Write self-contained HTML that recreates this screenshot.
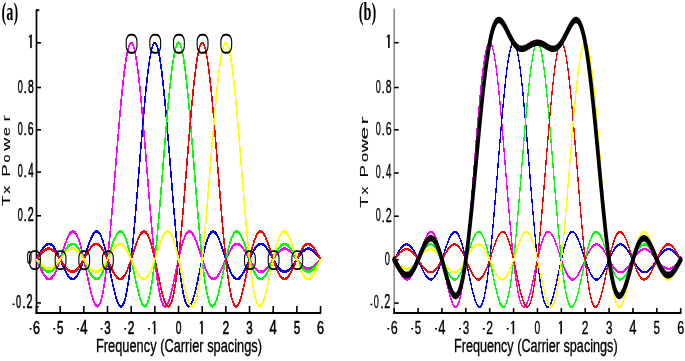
<!DOCTYPE html>
<html><head><meta charset="utf-8"><style>html,body{margin:0;padding:0;background:#fff;overflow:hidden}svg{display:block;will-change:transform;filter:blur(0.3px)}</style></head>
<body>
<svg width="685" height="361" viewBox="0 0 685 361">
<rect width="685" height="361" fill="#fff"/>
<line x1="36.50" y1="9.20" x2="36.50" y2="313.90" stroke="#000" stroke-width="1.70"/>
<line x1="35.50" y1="312.90" x2="321.14" y2="312.90" stroke="#000" stroke-width="2"/>
<line x1="36.50" y1="10.20" x2="39.30" y2="10.20" stroke="#000" stroke-width="2"/>
<line x1="36.50" y1="306.7" x2="38.70" y2="306.7" stroke="#000" stroke-width="1.4"/>
<line x1="36.50" y1="42.80" x2="41.00" y2="42.80" stroke="#000" stroke-width="1.6"/>
<rect x="30.20" y="34.60" width="1.60" height="13.50" fill="#000"/><path d="M30.40,35.30 l-1.50,2.20" stroke="#000" stroke-width="1.1" fill="none"/>
<line x1="36.50" y1="87.50" x2="41.00" y2="87.50" stroke="#000" stroke-width="1.6"/>
<text transform="matrix(0.0900,0,0,0.1907,17.75,92.61)" font-size="100" font-family="Liberation Sans, sans-serif" stroke="#000" stroke-width="0.50" vector-effect="non-scaling-stroke">0</text>
<text transform="matrix(0.1260,0,0,0.1496,23.55,92.80)" font-size="100" font-family="Liberation Sans, sans-serif" stroke="#000" stroke-width="0.50" vector-effect="non-scaling-stroke">.</text>
<text transform="matrix(0.1044,0,0,0.1907,27.95,92.61)" font-size="100" font-family="Liberation Sans, sans-serif" stroke="#000" stroke-width="0.50" vector-effect="non-scaling-stroke">8</text>
<line x1="36.50" y1="129.80" x2="41.00" y2="129.80" stroke="#000" stroke-width="1.6"/>
<text transform="matrix(0.0900,0,0,0.1907,17.75,134.91)" font-size="100" font-family="Liberation Sans, sans-serif" stroke="#000" stroke-width="0.50" vector-effect="non-scaling-stroke">0</text>
<text transform="matrix(0.1260,0,0,0.1496,23.55,135.10)" font-size="100" font-family="Liberation Sans, sans-serif" stroke="#000" stroke-width="0.50" vector-effect="non-scaling-stroke">.</text>
<text transform="matrix(0.1062,0,0,0.1907,27.86,134.91)" font-size="100" font-family="Liberation Sans, sans-serif" stroke="#000" stroke-width="0.50" vector-effect="non-scaling-stroke">6</text>
<line x1="36.50" y1="172.10" x2="41.00" y2="172.10" stroke="#000" stroke-width="1.6"/>
<text transform="matrix(0.0900,0,0,0.1907,17.75,177.21)" font-size="100" font-family="Liberation Sans, sans-serif" stroke="#000" stroke-width="0.50" vector-effect="non-scaling-stroke">0</text>
<text transform="matrix(0.1260,0,0,0.1496,23.55,177.40)" font-size="100" font-family="Liberation Sans, sans-serif" stroke="#000" stroke-width="0.50" vector-effect="non-scaling-stroke">.</text>
<text transform="matrix(0.0972,0,0,0.1962,28.18,177.40)" font-size="100" font-family="Liberation Sans, sans-serif" stroke="#000" stroke-width="0.50" vector-effect="non-scaling-stroke">4</text>
<line x1="36.50" y1="215.80" x2="41.00" y2="215.80" stroke="#000" stroke-width="1.6"/>
<text transform="matrix(0.0900,0,0,0.1907,17.75,220.91)" font-size="100" font-family="Liberation Sans, sans-serif" stroke="#000" stroke-width="0.50" vector-effect="non-scaling-stroke">0</text>
<text transform="matrix(0.1260,0,0,0.1496,23.55,221.10)" font-size="100" font-family="Liberation Sans, sans-serif" stroke="#000" stroke-width="0.50" vector-effect="non-scaling-stroke">.</text>
<text transform="matrix(0.1076,0,0,0.1933,27.86,221.10)" font-size="100" font-family="Liberation Sans, sans-serif" stroke="#000" stroke-width="0.50" vector-effect="non-scaling-stroke">2</text>
<line x1="36.50" y1="259.30" x2="41.00" y2="259.30" stroke="#000" stroke-width="1.6"/>
<text transform="matrix(0.0920,0,0,0.1907,26.74,264.41)" font-size="100" font-family="Liberation Sans, sans-serif" stroke="#000" stroke-width="0.50" vector-effect="non-scaling-stroke">0</text>
<line x1="36.50" y1="302.90" x2="41.00" y2="302.90" stroke="#000" stroke-width="1.6"/>
<rect x="12.55" y="303.50" width="1.9" height="1.6" fill="#000"/>
<text transform="matrix(0.0910,0,0,0.1907,15.94,308.01)" font-size="100" font-family="Liberation Sans, sans-serif" stroke="#000" stroke-width="0.50" vector-effect="non-scaling-stroke">0</text>
<text transform="matrix(0.1418,0,0,0.1496,22.01,308.20)" font-size="100" font-family="Liberation Sans, sans-serif" stroke="#000" stroke-width="0.50" vector-effect="non-scaling-stroke">.</text>
<text transform="matrix(0.1087,0,0,0.1933,26.40,308.20)" font-size="100" font-family="Liberation Sans, sans-serif" stroke="#000" stroke-width="0.50" vector-effect="non-scaling-stroke">2</text>
<line x1="36.50" y1="312.90" x2="36.50" y2="305.90" stroke="#000" stroke-width="1.6"/>
<rect x="29.65" y="328.00" width="1.9" height="1.6" fill="#000"/>
<text transform="matrix(0.1257,0,0,0.1879,32.96,334.02)" font-size="100" font-family="Liberation Sans, sans-serif" stroke="#000" stroke-width="0.50" vector-effect="non-scaling-stroke">6</text>
<line x1="60.17" y1="312.90" x2="60.17" y2="305.90" stroke="#000" stroke-width="1.6"/>
<rect x="53.32" y="328.00" width="1.9" height="1.6" fill="#000"/>
<text transform="matrix(0.1160,0,0,0.1906,56.96,334.01)" font-size="100" font-family="Liberation Sans, sans-serif" stroke="#000" stroke-width="0.50" vector-effect="non-scaling-stroke">5</text>
<line x1="83.84" y1="312.90" x2="83.84" y2="305.90" stroke="#000" stroke-width="1.6"/>
<rect x="76.99" y="328.00" width="1.9" height="1.6" fill="#000"/>
<text transform="matrix(0.1310,0,0,0.1933,80.24,334.20)" font-size="100" font-family="Liberation Sans, sans-serif" stroke="#000" stroke-width="0.50" vector-effect="non-scaling-stroke">4</text>
<line x1="107.51" y1="312.90" x2="107.51" y2="305.90" stroke="#000" stroke-width="1.6"/>
<rect x="100.66" y="328.00" width="1.9" height="1.6" fill="#000"/>
<text transform="matrix(0.1160,0,0,0.1879,104.32,334.02)" font-size="100" font-family="Liberation Sans, sans-serif" stroke="#000" stroke-width="0.50" vector-effect="non-scaling-stroke">3</text>
<line x1="131.18" y1="312.90" x2="131.18" y2="305.90" stroke="#000" stroke-width="1.6"/>
<rect x="124.33" y="328.00" width="1.9" height="1.6" fill="#000"/>
<text transform="matrix(0.1207,0,0,0.1905,127.82,334.20)" font-size="100" font-family="Liberation Sans, sans-serif" stroke="#000" stroke-width="0.50" vector-effect="non-scaling-stroke">2</text>
<line x1="154.85" y1="312.90" x2="154.85" y2="305.90" stroke="#000" stroke-width="1.6"/>
<rect x="148.00" y="328.00" width="1.9" height="1.6" fill="#000"/>
<rect x="153.85" y="320.90" width="1.60" height="13.30" fill="#000"/><path d="M154.05,321.60 l-1.50,2.20" stroke="#000" stroke-width="1.1" fill="none"/>
<line x1="178.52" y1="312.90" x2="178.52" y2="305.90" stroke="#000" stroke-width="1.6"/>
<text transform="matrix(0.1025,0,0,0.1879,175.67,334.02)" font-size="100" font-family="Liberation Sans, sans-serif" stroke="#000" stroke-width="0.50" vector-effect="non-scaling-stroke">0</text>
<line x1="202.19" y1="312.90" x2="202.19" y2="305.90" stroke="#000" stroke-width="1.6"/>
<rect x="201.19" y="320.90" width="1.60" height="13.30" fill="#000"/><path d="M201.39,321.60 l-1.50,2.20" stroke="#000" stroke-width="1.1" fill="none"/>
<line x1="225.86" y1="312.90" x2="225.86" y2="305.90" stroke="#000" stroke-width="1.6"/>
<text transform="matrix(0.1207,0,0,0.1905,222.50,334.20)" font-size="100" font-family="Liberation Sans, sans-serif" stroke="#000" stroke-width="0.50" vector-effect="non-scaling-stroke">2</text>
<line x1="249.53" y1="312.90" x2="249.53" y2="305.90" stroke="#000" stroke-width="1.6"/>
<text transform="matrix(0.1160,0,0,0.1879,246.34,334.02)" font-size="100" font-family="Liberation Sans, sans-serif" stroke="#000" stroke-width="0.50" vector-effect="non-scaling-stroke">3</text>
<line x1="273.20" y1="312.90" x2="273.20" y2="305.90" stroke="#000" stroke-width="1.6"/>
<text transform="matrix(0.1310,0,0,0.1933,269.60,334.20)" font-size="100" font-family="Liberation Sans, sans-serif" stroke="#000" stroke-width="0.50" vector-effect="non-scaling-stroke">4</text>
<line x1="296.87" y1="312.90" x2="296.87" y2="305.90" stroke="#000" stroke-width="1.6"/>
<text transform="matrix(0.1160,0,0,0.1906,293.66,334.01)" font-size="100" font-family="Liberation Sans, sans-serif" stroke="#000" stroke-width="0.50" vector-effect="non-scaling-stroke">5</text>
<line x1="320.54" y1="312.90" x2="320.54" y2="305.90" stroke="#000" stroke-width="1.6"/>
<text transform="matrix(0.1257,0,0,0.1879,317.00,334.02)" font-size="100" font-family="Liberation Sans, sans-serif" stroke="#000" stroke-width="0.50" vector-effect="non-scaling-stroke">6</text>
<g transform="matrix(1,0,0,1.7500,0,0)" fill="none" stroke-linejoin="round">
<polyline stroke="#ff00ff" stroke-width="1.60" shape-rendering="crispEdges" points="36.50,148.17 37.00,148.83 37.50,149.49 38.00,150.15 38.50,150.81 39.00,151.46 39.50,152.11 40.00,152.75 40.50,153.37 41.00,153.98 41.50,154.57 42.00,155.14 42.50,155.68 43.00,156.20 43.50,156.68 44.00,157.14 44.50,157.56 45.00,157.94 45.50,158.28 46.00,158.59 46.50,158.85 47.00,159.07 47.50,159.24 48.00,159.36 48.50,159.44 49.00,159.46 49.50,159.44 50.00,159.37 50.50,159.25 51.00,159.07 51.50,158.85 52.00,158.57 52.50,158.25 53.00,157.88 53.50,157.46 54.00,156.99 54.50,156.48 55.00,155.92 55.50,155.32 56.00,154.69 56.50,154.01 57.00,153.30 57.50,152.56 58.00,151.79 58.50,150.99 59.00,150.17 59.50,149.33 60.00,148.47 60.50,147.59 61.00,146.71 61.50,145.82 62.00,144.93 62.50,144.04 63.00,143.16 63.50,142.28 64.00,141.42 64.50,140.58 65.00,139.75 65.50,138.95 66.00,138.18 66.50,137.44 67.00,136.74 67.50,136.08 68.00,135.46 68.50,134.89 69.00,134.36 69.50,133.89 70.00,133.48 70.50,133.12 71.00,132.83 71.50,132.60 72.00,132.43 72.50,132.33 73.00,132.30 73.50,132.34 74.00,132.45 74.50,132.63 75.00,132.88 75.50,133.21 76.00,133.61 76.50,134.08 77.00,134.62 77.50,135.23 78.00,135.91 78.50,136.66 79.00,137.47 79.50,138.35 80.00,139.29 80.50,140.29 81.00,141.34 81.50,142.44 82.00,143.59 82.50,144.79 83.00,146.02 83.50,147.29 84.00,148.59 84.50,149.92 85.00,151.27 85.50,152.63 86.00,154.00 86.50,155.38 87.00,156.76 87.50,158.13 88.00,159.49 88.50,160.83 89.00,162.14 89.50,163.43 90.00,164.68 90.50,165.88 91.00,167.04 91.50,168.14 92.00,169.18 92.50,170.15 93.00,171.05 93.50,171.87 94.00,172.61 94.50,173.26 95.00,173.82 95.50,174.28 96.00,174.63 96.50,174.88 97.00,175.01 97.50,175.03 98.00,174.92 98.50,174.70 99.00,174.35 99.50,173.87 100.00,173.26 100.50,172.52 101.00,171.65 101.50,170.64 102.00,169.49 102.50,168.22 103.00,166.80 103.50,165.25 104.00,163.57 104.50,161.75 105.00,159.81 105.50,157.74 106.00,155.54 106.50,153.22 107.00,150.78 107.50,148.22 108.00,145.56 108.50,142.79 109.00,139.92 109.50,136.95 110.00,133.90 110.50,130.76 111.00,127.54 111.50,124.26 112.00,120.91 112.50,117.50 113.00,114.05 113.50,110.55 114.00,107.02 114.50,103.47 115.00,99.90 115.50,96.32 116.00,92.75 116.50,89.18 117.00,85.62 117.50,82.10 118.00,78.61 118.50,75.16 119.00,71.76 119.50,68.42 120.00,65.15 120.50,61.96 121.00,58.85 121.50,55.83 122.00,52.92 122.50,50.11 123.00,47.41 123.50,44.84 124.00,42.40 124.50,40.09 125.00,37.92 125.50,35.90 126.00,34.03 126.50,32.31 127.00,30.76 127.50,29.37 128.00,28.15 128.50,27.11 129.00,26.23 129.50,25.54 130.00,25.02 130.50,24.68 131.00,24.53 131.50,24.55 132.00,24.76 132.50,25.15 133.00,25.71 133.50,26.46 134.00,27.38 134.50,28.48 135.00,29.74 135.50,31.18 136.00,32.78 136.50,34.54 137.00,36.45 137.50,38.51 138.00,40.72 138.50,43.07 139.00,45.55 139.50,48.16 140.00,50.88 140.50,53.72 141.00,56.67 141.50,59.71 142.00,62.84 142.50,66.06 143.00,69.35 143.50,72.70 144.00,76.12 144.50,79.58 145.00,83.08 145.50,86.62 146.00,90.17 146.50,93.75 147.00,97.33 147.50,100.90 148.00,104.47 148.50,108.01 149.00,111.53 149.50,115.02 150.00,118.46 150.50,121.85 151.00,125.18 151.50,128.45 152.00,131.65 152.50,134.76 153.00,137.79 153.50,140.73 154.00,143.58 154.50,146.32 155.00,148.95 155.50,151.47 156.00,153.88 156.50,156.17 157.00,158.33 157.50,160.37 158.00,162.28 158.50,164.05 159.00,165.70 159.50,167.21 160.00,168.59 160.50,169.83 161.00,170.94 161.50,171.91 162.00,172.74 162.50,173.45 163.00,174.02 163.50,174.46 164.00,174.78 164.50,174.97 165.00,175.03 165.50,174.98 166.00,174.82 166.50,174.54 167.00,174.16 167.50,173.67 168.00,173.09 168.50,172.42 169.00,171.65 169.50,170.81 170.00,169.89 170.50,168.89 171.00,167.84 171.50,166.72 172.00,165.55 172.50,164.33 173.00,163.07 173.50,161.78 174.00,160.46 174.50,159.11 175.00,157.75 175.50,156.37 176.00,155.00 176.50,153.62 177.00,152.25 177.50,150.89 178.00,149.54 178.50,148.22 179.00,146.93 179.50,145.67 180.00,144.45 180.50,143.26 181.00,142.13 181.50,141.04 182.00,140.00 182.50,139.02 183.00,138.10 183.50,137.24 184.00,136.44 184.50,135.71 185.00,135.05 185.50,134.46 186.00,133.94 186.50,133.49 187.00,133.11 187.50,132.80 188.00,132.57 188.50,132.41 189.00,132.32 189.50,132.30 190.00,132.35 190.50,132.47 191.00,132.65 191.50,132.90 192.00,133.22 192.50,133.59 193.00,134.02 193.50,134.51 194.00,135.04 194.50,135.63 195.00,136.26 195.50,136.93 196.00,137.65 196.50,138.39 197.00,139.17 197.50,139.98 198.00,140.81 198.50,141.66 199.00,142.53 199.50,143.41 200.00,144.29 200.50,145.18 201.00,146.07 201.50,146.96 202.00,147.84 202.50,148.71 203.00,149.56 203.50,150.40 204.00,151.22 204.50,152.01 205.00,152.77 205.50,153.50 206.00,154.20 206.50,154.87 207.00,155.49 207.50,156.08 208.00,156.62 208.50,157.12 209.00,157.58 209.50,157.99 210.00,158.34 210.50,158.66 211.00,158.92 211.50,159.13 212.00,159.29 212.50,159.39 213.00,159.45 213.50,159.46 214.00,159.42 214.50,159.33 215.00,159.19 215.50,159.01 216.00,158.78 216.50,158.51 217.00,158.19 217.50,157.84 218.00,157.44 218.50,157.01 219.00,156.55 219.50,156.06 220.00,155.53 220.50,154.98 221.00,154.41 221.50,153.81 222.00,153.20 222.50,152.57 223.00,151.93 223.50,151.28 224.00,150.62 224.50,149.96 225.00,149.30 225.50,148.64 226.00,147.99 226.50,147.34 227.00,146.71 227.50,146.08 228.00,145.47 228.50,144.89 229.00,144.32 229.50,143.77 230.00,143.25 230.50,142.75 231.00,142.29 231.50,141.85 232.00,141.45 232.50,141.08 233.00,140.74 233.50,140.44 234.00,140.18 234.50,139.95 235.00,139.77 235.50,139.62 236.00,139.51 236.50,139.44 237.00,139.40 237.50,139.41 238.00,139.46 238.50,139.54 239.00,139.66 239.50,139.82 240.00,140.01 240.50,140.23 241.00,140.49 241.50,140.78 242.00,141.10 242.50,141.45 243.00,141.82 243.50,142.22 244.00,142.64 244.50,143.08 245.00,143.54 245.50,144.02 246.00,144.51 246.50,145.01 247.00,145.52 247.50,146.04 248.00,146.56 248.50,147.09 249.00,147.62 249.50,148.14 250.00,148.66 250.50,149.17 251.00,149.68 251.50,150.17 252.00,150.65 252.50,151.12 253.00,151.57 253.50,152.00 254.00,152.41 254.50,152.80 255.00,153.17 255.50,153.51 256.00,153.82 256.50,154.11 257.00,154.37 257.50,154.60 258.00,154.80 258.50,154.97 259.00,155.10 259.50,155.21 260.00,155.29 260.50,155.33 261.00,155.34 261.50,155.32 262.00,155.27 262.50,155.19 263.00,155.07 263.50,154.93 264.00,154.76 264.50,154.56 265.00,154.34 265.50,154.09 266.00,153.82 266.50,153.52 267.00,153.20 267.50,152.86 268.00,152.51 268.50,152.13 269.00,151.75 269.50,151.35 270.00,150.94 270.50,150.52 271.00,150.09 271.50,149.66 272.00,149.22 272.50,148.78 273.00,148.35 273.50,147.91 274.00,147.48 274.50,147.06 275.00,146.64 275.50,146.23 276.00,145.84 276.50,145.45 277.00,145.08 277.50,144.73 278.00,144.40 278.50,144.08 279.00,143.78 279.50,143.51 280.00,143.26 280.50,143.03 281.00,142.82 281.50,142.64 282.00,142.49 282.50,142.36 283.00,142.26 283.50,142.18 284.00,142.13 284.50,142.11 285.00,142.11 285.50,142.15 286.00,142.20 286.50,142.29 287.00,142.39 287.50,142.53 288.00,142.68 288.50,142.86 289.00,143.07 289.50,143.29 290.00,143.53 290.50,143.80 291.00,144.08 291.50,144.37 292.00,144.68 292.50,145.01 293.00,145.34 293.50,145.69 294.00,146.04 294.50,146.41 295.00,146.77 295.50,147.15 296.00,147.52 296.50,147.89 297.00,148.27 297.50,148.64 298.00,149.01 298.50,149.37 299.00,149.72 299.50,150.06 300.00,150.40 300.50,150.72 301.00,151.03 301.50,151.33 302.00,151.60 302.50,151.87 303.00,152.11 303.50,152.34 304.00,152.55 304.50,152.73 305.00,152.90 305.50,153.04 306.00,153.16 306.50,153.26 307.00,153.34 307.50,153.39 308.00,153.42 308.50,153.42 309.00,153.41 309.50,153.37 310.00,153.30 310.50,153.22 311.00,153.11 311.50,152.99 312.00,152.84 312.50,152.67 313.00,152.49 313.50,152.28 314.00,152.06 314.50,151.82 315.00,151.57 315.50,151.31 316.00,151.03 316.50,150.74 317.00,150.44 317.50,150.13 318.00,149.82 318.50,149.50 319.00,149.18 319.50,148.85 320.00,148.52 320.50,148.20"/>
<polyline stroke="#0000ff" stroke-width="1.60" shape-rendering="crispEdges" points="36.50,148.17 37.00,147.65 37.50,147.12 38.00,146.59 38.50,146.07 39.00,145.55 39.50,145.04 40.00,144.54 40.50,144.05 41.00,143.57 41.50,143.11 42.00,142.67 42.50,142.24 43.00,141.84 43.50,141.47 44.00,141.12 44.50,140.80 45.00,140.51 45.50,140.25 46.00,140.02 46.50,139.83 47.00,139.67 47.50,139.55 48.00,139.46 48.50,139.41 49.00,139.40 49.50,139.43 50.00,139.50 50.50,139.61 51.00,139.76 51.50,139.94 52.00,140.16 52.50,140.42 53.00,140.72 53.50,141.06 54.00,141.42 54.50,141.83 55.00,142.26 55.50,142.72 56.00,143.22 56.50,143.74 57.00,144.28 57.50,144.85 58.00,145.44 58.50,146.05 59.00,146.67 59.50,147.30 60.00,147.95 60.50,148.60 61.00,149.26 61.50,149.92 62.00,150.58 62.50,151.24 63.00,151.89 63.50,152.53 64.00,153.16 64.50,153.78 65.00,154.37 65.50,154.95 66.00,155.50 66.50,156.02 67.00,156.52 67.50,156.99 68.00,157.42 68.50,157.81 69.00,158.17 69.50,158.49 70.00,158.77 70.50,159.00 71.00,159.18 71.50,159.32 72.00,159.42 72.50,159.46 73.00,159.46 73.50,159.40 74.00,159.29 74.50,159.14 75.00,158.93 75.50,158.67 76.00,158.36 76.50,158.01 77.00,157.60 77.50,157.15 78.00,156.66 78.50,156.11 79.00,155.53 79.50,154.91 80.00,154.24 80.50,153.55 81.00,152.82 81.50,152.05 82.00,151.26 82.50,150.45 83.00,149.61 83.50,148.76 84.00,147.89 84.50,147.01 85.00,146.13 85.50,145.24 86.00,144.34 86.50,143.46 87.00,142.58 87.50,141.71 88.00,140.86 88.50,140.03 89.00,139.22 89.50,138.44 90.00,137.69 90.50,136.98 91.00,136.30 91.50,135.67 92.00,135.08 92.50,134.54 93.00,134.05 93.50,133.61 94.00,133.24 94.50,132.92 95.00,132.67 95.50,132.48 96.00,132.35 96.50,132.30 97.00,132.31 97.50,132.40 98.00,132.56 98.50,132.79 99.00,133.09 99.50,133.46 100.00,133.91 100.50,134.43 101.00,135.01 101.50,135.67 102.00,136.40 102.50,137.19 103.00,138.05 103.50,138.96 104.00,139.94 104.50,140.97 105.00,142.06 105.50,143.19 106.00,144.37 106.50,145.60 107.00,146.85 107.50,148.15 108.00,149.46 108.50,150.81 109.00,152.16 109.50,153.53 110.00,154.91 110.50,156.29 111.00,157.67 111.50,159.03 112.00,160.38 112.50,161.70 113.00,163.00 113.50,164.26 114.00,165.48 114.50,166.65 115.00,167.77 115.50,168.83 116.00,169.83 116.50,170.75 117.00,171.60 117.50,172.37 118.00,173.05 118.50,173.64 119.00,174.13 119.50,174.52 120.00,174.80 120.50,174.98 121.00,175.03 121.50,174.97 122.00,174.79 122.50,174.48 123.00,174.05 123.50,173.48 124.00,172.79 124.50,171.96 125.00,171.00 125.50,169.90 126.00,168.67 126.50,167.30 127.00,165.79 127.50,164.16 128.00,162.39 128.50,160.48 129.00,158.45 129.50,156.30 130.00,154.02 130.50,151.62 131.00,149.10 131.50,146.48 132.00,143.74 132.50,140.91 133.00,137.97 133.50,134.95 134.00,131.83 134.50,128.64 135.00,125.38 135.50,122.05 136.00,118.66 136.50,115.23 137.00,111.74 137.50,108.23 138.00,104.68 138.50,101.12 139.00,97.54 139.50,93.96 140.00,90.39 140.50,86.83 141.00,83.29 141.50,79.79 142.00,76.32 142.50,72.91 143.00,69.55 143.50,66.25 144.00,63.03 144.50,59.90 145.00,56.85 145.50,53.90 146.00,51.05 146.50,48.32 147.00,45.70 147.50,43.21 148.00,40.86 148.50,38.64 149.00,36.57 149.50,34.65 150.00,32.88 150.50,31.27 151.00,29.83 151.50,28.55 152.00,27.44 152.50,26.51 153.00,25.75 153.50,25.17 154.00,24.78 154.50,24.56 155.00,24.52 155.50,24.67 156.00,24.99 156.50,25.50 157.00,26.19 157.50,27.05 158.00,28.09 158.50,29.29 159.00,30.67 159.50,32.22 160.00,33.92 160.50,35.78 161.00,37.80 161.50,39.96 162.00,42.26 162.50,44.69 163.00,47.26 163.50,49.94 164.00,52.75 164.50,55.66 165.00,58.67 165.50,61.77 166.00,64.96 166.50,68.22 167.00,71.56 167.50,74.95 168.00,78.40 168.50,81.89 169.00,85.41 169.50,88.96 170.00,92.53 170.50,96.11 171.00,99.69 171.50,103.26 172.00,106.81 172.50,110.34 173.00,113.84 173.50,117.30 174.00,120.70 174.50,124.06 175.00,127.35 175.50,130.57 176.00,133.71 176.50,136.77 177.00,139.74 177.50,142.62 178.00,145.40 178.50,148.07 179.00,150.63 179.50,153.07 180.00,155.40 180.50,157.61 181.00,159.69 181.50,161.64 182.00,163.46 182.50,165.15 183.00,166.71 183.50,168.13 184.00,169.42 184.50,170.57 185.00,171.59 185.50,172.47 186.00,173.22 186.50,173.84 187.00,174.32 187.50,174.68 188.00,174.91 188.50,175.02 189.00,175.01 189.50,174.89 190.00,174.65 190.50,174.30 191.00,173.85 191.50,173.30 192.00,172.65 192.50,171.92 193.00,171.10 193.50,170.21 194.00,169.24 194.50,168.20 195.00,167.10 195.50,165.95 196.00,164.75 196.50,163.50 197.00,162.22 197.50,160.91 198.00,159.57 198.50,158.21 199.00,156.84 199.50,155.46 200.00,154.09 200.50,152.71 201.00,151.35 201.50,150.00 202.00,148.67 202.50,147.37 203.00,146.10 203.50,144.86 204.00,143.66 204.50,142.51 205.00,141.40 205.50,140.35 206.00,139.35 206.50,138.41 207.00,137.53 207.50,136.71 208.00,135.95 208.50,135.27 209.00,134.65 209.50,134.11 210.00,133.63 210.50,133.23 211.00,132.90 211.50,132.64 212.00,132.45 212.50,132.34 213.00,132.30 213.50,132.32 214.00,132.42 214.50,132.58 215.00,132.81 215.50,133.10 216.00,133.46 216.50,133.87 217.00,134.33 217.50,134.85 218.00,135.42 218.50,136.04 219.00,136.70 219.50,137.40 220.00,138.14 220.50,138.91 221.00,139.70 221.50,140.53 222.00,141.37 222.50,142.23 223.00,143.11 223.50,143.99 224.00,144.88 224.50,145.77 225.00,146.66 225.50,147.54 226.00,148.41 226.50,149.27 227.00,150.12 227.50,150.94 228.00,151.74 228.50,152.51 229.00,153.26 229.50,153.97 230.00,154.65 230.50,155.29 231.00,155.89 231.50,156.44 232.00,156.96 232.50,157.43 233.00,157.85 233.50,158.23 234.00,158.56 234.50,158.83 235.00,159.06 235.50,159.24 236.00,159.36 236.50,159.44 237.00,159.46 237.50,159.44 238.00,159.37 238.50,159.25 239.00,159.08 239.50,158.86 240.00,158.61 240.50,158.30 241.00,157.96 241.50,157.58 242.00,157.16 242.50,156.71 243.00,156.23 243.50,155.71 244.00,155.17 244.50,154.61 245.00,154.02 245.50,153.41 246.00,152.79 246.50,152.15 247.00,151.50 247.50,150.85 248.00,150.19 248.50,149.53 249.00,148.87 249.50,148.21 250.00,147.56 250.50,146.92 251.00,146.29 251.50,145.68 252.00,145.08 252.50,144.51 253.00,143.95 253.50,143.42 254.00,142.92 254.50,142.44 255.00,142.00 255.50,141.58 256.00,141.20 256.50,140.85 257.00,140.54 257.50,140.26 258.00,140.03 258.50,139.82 259.00,139.66 259.50,139.54 260.00,139.46 260.50,139.41 261.00,139.40 261.50,139.44 262.00,139.51 262.50,139.61 263.00,139.76 263.50,139.94 264.00,140.15 264.50,140.40 265.00,140.68 265.50,140.99 266.00,141.33 266.50,141.69 267.00,142.08 267.50,142.49 268.00,142.93 268.50,143.38 269.00,143.85 269.50,144.34 270.00,144.84 270.50,145.35 271.00,145.86 271.50,146.38 272.00,146.91 272.50,147.44 273.00,147.96 273.50,148.48 274.00,149.00 274.50,149.51 275.00,150.01 275.50,150.49 276.00,150.96 276.50,151.42 277.00,151.86 277.50,152.28 278.00,152.67 278.50,153.05 279.00,153.39 279.50,153.72 280.00,154.01 280.50,154.28 281.00,154.52 281.50,154.73 282.00,154.91 282.50,155.06 283.00,155.18 283.50,155.26 284.00,155.32 284.50,155.34 285.00,155.33 285.50,155.29 286.00,155.22 286.50,155.12 287.00,154.98 287.50,154.82 288.00,154.63 288.50,154.42 289.00,154.18 289.50,153.91 290.00,153.62 290.50,153.31 291.00,152.98 291.50,152.63 292.00,152.26 292.50,151.88 293.00,151.49 293.50,151.08 294.00,150.66 294.50,150.24 295.00,149.80 295.50,149.37 296.00,148.93 296.50,148.49 297.00,148.06 297.50,147.63 298.00,147.20 298.50,146.78 299.00,146.37 299.50,145.97 300.00,145.58 300.50,145.21 301.00,144.85 301.50,144.51 302.00,144.19 302.50,143.88 303.00,143.60 303.50,143.34 304.00,143.10 304.50,142.89 305.00,142.70 305.50,142.54 306.00,142.40 306.50,142.29 307.00,142.20 307.50,142.15 308.00,142.11 308.50,142.11 309.00,142.13 309.50,142.18 310.00,142.25 310.50,142.35 311.00,142.48 311.50,142.63 312.00,142.80 312.50,143.00 313.00,143.21 313.50,143.45 314.00,143.70 314.50,143.98 315.00,144.27 315.50,144.57 316.00,144.89 316.50,145.23 317.00,145.57 317.50,145.92 318.00,146.28 318.50,146.65 319.00,147.02 319.50,147.39 320.00,147.77 320.50,148.14"/>
<polyline stroke="#00ff00" stroke-width="1.60" shape-rendering="crispEdges" points="36.50,148.17 37.00,148.61 37.50,149.05 38.00,149.48 38.50,149.92 39.00,150.35 39.50,150.77 40.00,151.18 40.50,151.59 41.00,151.98 41.50,152.36 42.00,152.72 42.50,153.07 43.00,153.39 43.50,153.70 44.00,153.98 44.50,154.24 45.00,154.48 45.50,154.69 46.00,154.87 46.50,155.02 47.00,155.14 47.50,155.24 48.00,155.30 48.50,155.34 49.00,155.34 49.50,155.31 50.00,155.24 50.50,155.15 51.00,155.03 51.50,154.87 52.00,154.68 52.50,154.46 53.00,154.22 53.50,153.94 54.00,153.64 54.50,153.31 55.00,152.95 55.50,152.57 56.00,152.17 56.50,151.75 57.00,151.30 57.50,150.84 58.00,150.37 58.50,149.88 59.00,149.38 59.50,148.87 60.00,148.35 60.50,147.83 61.00,147.30 61.50,146.77 62.00,146.25 62.50,145.73 63.00,145.21 63.50,144.71 64.00,144.21 64.50,143.73 65.00,143.26 65.50,142.81 66.00,142.38 66.50,141.98 67.00,141.59 67.50,141.24 68.00,140.90 68.50,140.60 69.00,140.33 69.50,140.09 70.00,139.89 70.50,139.72 71.00,139.58 71.50,139.49 72.00,139.42 72.50,139.40 73.00,139.42 73.50,139.47 74.00,139.57 74.50,139.70 75.00,139.87 75.50,140.08 76.00,140.33 76.50,140.62 77.00,140.94 77.50,141.29 78.00,141.69 78.50,142.11 79.00,142.56 79.50,143.05 80.00,143.56 80.50,144.09 81.00,144.65 81.50,145.24 82.00,145.84 82.50,146.45 83.00,147.09 83.50,147.73 84.00,148.38 84.50,149.04 85.00,149.70 85.50,150.36 86.00,151.02 86.50,151.67 87.00,152.32 87.50,152.95 88.00,153.57 88.50,154.17 89.00,154.75 89.50,155.31 90.00,155.85 90.50,156.36 91.00,156.83 91.50,157.28 92.00,157.68 92.50,158.05 93.00,158.39 93.50,158.68 94.00,158.92 94.50,159.13 95.00,159.28 95.50,159.39 96.00,159.45 96.50,159.46 97.00,159.42 97.50,159.34 98.00,159.20 98.50,159.01 99.00,158.77 99.50,158.47 100.00,158.14 100.50,157.75 101.00,157.31 101.50,156.83 102.00,156.30 102.50,155.73 103.00,155.12 103.50,154.47 104.00,153.79 104.50,153.07 105.00,152.32 105.50,151.54 106.00,150.73 106.50,149.90 107.00,149.05 107.50,148.19 108.00,147.31 108.50,146.43 109.00,145.54 109.50,144.65 110.00,143.76 110.50,142.88 111.00,142.01 111.50,141.15 112.00,140.31 112.50,139.49 113.00,138.70 113.50,137.94 114.00,137.22 114.50,136.53 115.00,135.88 115.50,135.27 116.00,134.71 116.50,134.21 117.00,133.75 117.50,133.36 118.00,133.02 118.50,132.75 119.00,132.53 119.50,132.39 120.00,132.31 120.50,132.30 121.00,132.36 121.50,132.50 122.00,132.70 122.50,132.98 123.00,133.33 123.50,133.75 124.00,134.24 124.50,134.81 125.00,135.44 125.50,136.14 126.00,136.91 126.50,137.75 127.00,138.65 127.50,139.60 128.00,140.62 128.50,141.68 129.00,142.80 129.50,143.97 130.00,145.18 130.50,146.42 131.00,147.70 131.50,149.01 132.00,150.35 132.50,151.70 133.00,153.07 133.50,154.44 134.00,155.82 134.50,157.20 135.00,158.57 135.50,159.92 136.00,161.25 136.50,162.56 137.00,163.83 137.50,165.07 138.00,166.26 138.50,167.40 139.00,168.48 139.50,169.50 140.00,170.45 140.50,171.32 141.00,172.12 141.50,172.83 142.00,173.45 142.50,173.98 143.00,174.40 143.50,174.72 144.00,174.93 144.50,175.03 145.00,175.01 145.50,174.87 146.00,174.60 146.50,174.21 147.00,173.69 147.50,173.04 148.00,172.26 148.50,171.34 149.00,170.29 149.50,169.10 150.00,167.78 150.50,166.32 151.00,164.73 151.50,163.00 152.00,161.15 152.50,159.16 153.00,157.05 153.50,154.81 154.00,152.45 154.50,149.97 155.00,147.38 155.50,144.68 156.00,141.88 156.50,138.98 157.00,135.98 157.50,132.90 158.00,129.74 158.50,126.50 159.00,123.19 159.50,119.82 160.00,116.40 160.50,112.93 161.00,109.43 161.50,105.89 162.00,102.33 162.50,98.76 163.00,95.18 163.50,91.60 164.00,88.04 164.50,84.49 165.00,80.98 165.50,77.50 166.00,74.06 166.50,70.68 167.00,67.37 167.50,64.12 168.00,60.95 168.50,57.87 169.00,54.89 169.50,52.01 170.00,49.23 170.50,46.58 171.00,44.05 171.50,41.64 172.00,39.38 172.50,37.26 173.00,35.28 173.50,33.46 174.00,31.80 174.50,30.30 175.00,28.96 175.50,27.80 176.00,26.81 176.50,25.99 177.00,25.35 177.50,24.89 178.00,24.61 178.50,24.51 179.00,24.60 179.50,24.86 180.00,25.31 180.50,25.93 181.00,26.74 181.50,27.71 182.00,28.86 182.50,30.19 183.00,31.67 183.50,33.32 184.00,35.13 184.50,37.09 185.00,39.21 185.50,41.46 186.00,43.85 186.50,46.37 187.00,49.02 187.50,51.78 188.00,54.65 188.50,57.63 189.00,60.70 189.50,63.86 190.00,67.10 190.50,70.42 191.00,73.79 191.50,77.22 192.00,80.70 192.50,84.21 193.00,87.75 193.50,91.32 194.00,94.89 194.50,98.47 195.00,102.05 195.50,105.61 196.00,109.14 196.50,112.65 197.00,116.13 197.50,119.55 198.00,122.92 198.50,126.24 199.00,129.48 199.50,132.65 200.00,135.74 200.50,138.74 201.00,141.65 201.50,144.46 202.00,147.17 202.50,149.77 203.00,152.26 203.50,154.62 204.00,156.87 204.50,158.99 205.00,160.99 205.50,162.86 206.00,164.59 206.50,166.20 207.00,167.67 207.50,169.00 208.00,170.20 208.50,171.26 209.00,172.19 209.50,172.98 210.00,173.64 210.50,174.17 211.00,174.58 211.50,174.85 212.00,175.00 212.50,175.03 213.00,174.94 213.50,174.74 214.00,174.43 214.50,174.01 215.00,173.50 215.50,172.88 216.00,172.18 216.50,171.39 217.00,170.52 217.50,169.58 218.00,168.56 218.50,167.48 219.00,166.35 219.50,165.16 220.00,163.93 220.50,162.66 221.00,161.36 221.50,160.03 222.00,158.68 222.50,157.31 223.00,155.93 223.50,154.55 224.00,153.18 224.50,151.81 225.00,150.45 225.50,149.12 226.00,147.81 226.50,146.52 227.00,145.27 227.50,144.06 228.00,142.89 228.50,141.77 229.00,140.70 229.50,139.68 230.00,138.72 230.50,137.82 231.00,136.98 231.50,136.20 232.00,135.49 232.50,134.85 233.00,134.28 233.50,133.79 234.00,133.36 234.50,133.00 235.00,132.72 235.50,132.51 236.00,132.37 236.50,132.30 237.00,132.31 237.50,132.38 238.00,132.52 238.50,132.73 239.00,133.00 239.50,133.33 240.00,133.72 240.50,134.17 241.00,134.67 241.50,135.22 242.00,135.83 242.50,136.47 243.00,137.16 243.50,137.88 244.00,138.64 244.50,139.43 245.00,140.24 245.50,141.08 246.00,141.94 246.50,142.81 247.00,143.69 247.50,144.58 248.00,145.47 248.50,146.36 249.00,147.24 249.50,148.12 250.00,148.98 250.50,149.83 251.00,150.66 251.50,151.47 252.00,152.25 252.50,153.01 253.00,153.73 253.50,154.42 254.00,155.07 254.50,155.69 255.00,156.26 255.50,156.79 256.00,157.27 256.50,157.71 257.00,158.11 257.50,158.45 258.00,158.74 258.50,158.99 259.00,159.18 259.50,159.33 260.00,159.42 260.50,159.46 261.00,159.45 261.50,159.40 262.00,159.29 262.50,159.14 263.00,158.94 263.50,158.70 264.00,158.41 264.50,158.08 265.00,157.72 265.50,157.31 266.00,156.87 266.50,156.40 267.00,155.89 267.50,155.36 268.00,154.80 268.50,154.22 269.00,153.62 269.50,153.00 270.00,152.37 270.50,151.72 271.00,151.07 271.50,150.41 272.00,149.75 272.50,149.09 273.00,148.43 273.50,147.78 274.00,147.14 274.50,146.50 275.00,145.89 275.50,145.28 276.00,144.70 276.50,144.14 277.00,143.60 277.50,143.09 278.00,142.60 278.50,142.14 279.00,141.72 279.50,141.32 280.00,140.97 280.50,140.64 281.00,140.35 281.50,140.10 282.00,139.89 282.50,139.71 283.00,139.58 283.50,139.48 284.00,139.42 284.50,139.40 285.00,139.42 285.50,139.48 286.00,139.57 286.50,139.71 287.00,139.87 287.50,140.08 288.00,140.31 288.50,140.58 289.00,140.88 289.50,141.21 290.00,141.56 290.50,141.95 291.00,142.35 291.50,142.78 292.00,143.23 292.50,143.69 293.00,144.17 293.50,144.67 294.00,145.17 294.50,145.69 295.00,146.21 295.50,146.73 296.00,147.26 296.50,147.78 297.00,148.31 297.50,148.83 298.00,149.34 298.50,149.84 299.00,150.33 299.50,150.81 300.00,151.27 300.50,151.71 301.00,152.14 301.50,152.54 302.00,152.92 302.50,153.28 303.00,153.61 303.50,153.92 304.00,154.20 304.50,154.44 305.00,154.66 305.50,154.85 306.00,155.01 306.50,155.14 307.00,155.24 307.50,155.30 308.00,155.34 308.50,155.34 309.00,155.31 309.50,155.25 310.00,155.15 310.50,155.03 311.00,154.88 311.50,154.70 312.00,154.49 312.50,154.26 313.00,154.00 313.50,153.72 314.00,153.42 314.50,153.09 315.00,152.75 315.50,152.39 316.00,152.01 316.50,151.62 317.00,151.22 317.50,150.80 318.00,150.38 318.50,149.95 319.00,149.52 319.50,149.08 320.00,148.64 320.50,148.21"/>
<polyline stroke="#ff0000" stroke-width="1.60" shape-rendering="crispEdges" points="36.50,148.17 37.00,147.80 37.50,147.42 38.00,147.05 38.50,146.68 39.00,146.31 39.50,145.95 40.00,145.60 40.50,145.25 41.00,144.92 41.50,144.60 42.00,144.29 42.50,144.00 43.00,143.73 43.50,143.47 44.00,143.23 44.50,143.01 45.00,142.82 45.50,142.64 46.00,142.49 46.50,142.36 47.00,142.26 47.50,142.19 48.00,142.13 48.50,142.11 49.00,142.11 49.50,142.14 50.00,142.20 50.50,142.28 51.00,142.39 51.50,142.53 52.00,142.69 52.50,142.87 53.00,143.09 53.50,143.32 54.00,143.58 54.50,143.86 55.00,144.16 55.50,144.48 56.00,144.82 56.50,145.18 57.00,145.55 57.50,145.94 58.00,146.34 58.50,146.75 59.00,147.17 59.50,147.59 60.00,148.02 60.50,148.46 61.00,148.90 61.50,149.33 62.00,149.77 62.50,150.20 63.00,150.63 63.50,151.04 64.00,151.45 64.50,151.85 65.00,152.23 65.50,152.60 66.00,152.95 66.50,153.29 67.00,153.60 67.50,153.89 68.00,154.16 68.50,154.40 69.00,154.62 69.50,154.81 70.00,154.97 70.50,155.11 71.00,155.21 71.50,155.28 72.00,155.33 72.50,155.34 73.00,155.32 73.50,155.27 74.00,155.19 74.50,155.07 75.00,154.93 75.50,154.75 76.00,154.54 76.50,154.30 77.00,154.04 77.50,153.74 78.00,153.42 78.50,153.07 79.00,152.70 79.50,152.31 80.00,151.89 80.50,151.46 81.00,151.00 81.50,150.53 82.00,150.05 82.50,149.55 83.00,149.04 83.50,148.53 84.00,148.00 84.50,147.48 85.00,146.95 85.50,146.43 86.00,145.90 86.50,145.39 87.00,144.88 87.50,144.38 88.00,143.89 88.50,143.42 89.00,142.96 89.50,142.53 90.00,142.11 90.50,141.72 91.00,141.35 91.50,141.01 92.00,140.70 92.50,140.42 93.00,140.17 93.50,139.95 94.00,139.77 94.50,139.62 95.00,139.51 95.50,139.44 96.00,139.41 96.50,139.41 97.00,139.45 97.50,139.53 98.00,139.65 98.50,139.81 99.00,140.01 99.50,140.24 100.00,140.52 100.50,140.82 101.00,141.17 101.50,141.55 102.00,141.96 102.50,142.40 103.00,142.88 103.50,143.38 104.00,143.91 104.50,144.46 105.00,145.04 105.50,145.63 106.00,146.24 106.50,146.87 107.00,147.51 107.50,148.16 108.00,148.81 108.50,149.47 109.00,150.14 109.50,150.80 110.00,151.45 110.50,152.10 111.00,152.74 111.50,153.36 112.00,153.97 112.50,154.56 113.00,155.13 113.50,155.67 114.00,156.19 114.50,156.67 115.00,157.13 115.50,157.55 116.00,157.93 116.50,158.28 117.00,158.58 117.50,158.84 118.00,159.06 118.50,159.23 119.00,159.36 119.50,159.44 120.00,159.46 120.50,159.44 121.00,159.37 121.50,159.25 122.00,159.08 122.50,158.85 123.00,158.58 123.50,158.26 124.00,157.88 124.50,157.46 125.00,157.00 125.50,156.49 126.00,155.93 126.50,155.34 127.00,154.70 127.50,154.02 128.00,153.32 128.50,152.57 129.00,151.80 129.50,151.01 130.00,150.18 130.50,149.34 131.00,148.48 131.50,147.61 132.00,146.73 132.50,145.84 133.00,144.95 133.50,144.06 134.00,143.18 134.50,142.30 135.00,141.44 135.50,140.59 136.00,139.77 136.50,138.97 137.00,138.20 137.50,137.46 138.00,136.76 138.50,136.09 139.00,135.47 139.50,134.90 140.00,134.37 140.50,133.90 141.00,133.49 141.50,133.13 142.00,132.83 142.50,132.60 143.00,132.43 143.50,132.33 144.00,132.30 144.50,132.33 145.00,132.44 145.50,132.62 146.00,132.87 146.50,133.20 147.00,133.60 147.50,134.07 148.00,134.61 148.50,135.22 149.00,135.90 149.50,136.64 150.00,137.46 150.50,138.33 151.00,139.27 151.50,140.27 152.00,141.32 152.50,142.42 153.00,143.57 153.50,144.76 154.00,145.99 154.50,147.26 155.00,148.56 155.50,149.89 156.00,151.24 156.50,152.60 157.00,153.98 157.50,155.35 158.00,156.73 158.50,158.10 159.00,159.46 159.50,160.80 160.00,162.12 160.50,163.40 161.00,164.65 161.50,165.86 162.00,167.01 162.50,168.12 163.00,169.16 163.50,170.13 164.00,171.03 164.50,171.86 165.00,172.60 165.50,173.25 166.00,173.81 166.50,174.27 167.00,174.62 167.50,174.87 168.00,175.01 168.50,175.03 169.00,174.93 169.50,174.71 170.00,174.36 170.50,173.88 171.00,173.28 171.50,172.54 172.00,171.67 172.50,170.66 173.00,169.52 173.50,168.24 174.00,166.83 174.50,165.28 175.00,163.60 175.50,161.79 176.00,159.85 176.50,157.78 177.00,155.58 177.50,153.26 178.00,150.83 178.50,148.28 179.00,145.61 179.50,142.85 180.00,139.98 180.50,137.01 181.00,133.96 181.50,130.82 182.00,127.61 182.50,124.32 183.00,120.97 183.50,117.57 184.00,114.12 184.50,110.62 185.00,107.10 185.50,103.54 186.00,99.97 186.50,96.40 187.00,92.82 187.50,89.25 188.00,85.70 188.50,82.17 189.00,78.68 189.50,75.23 190.00,71.83 190.50,68.49 191.00,65.22 191.50,62.02 192.00,58.91 192.50,55.89 193.00,52.97 193.50,50.16 194.00,47.47 194.50,44.89 195.00,42.45 195.50,40.13 196.00,37.96 196.50,35.94 197.00,34.06 197.50,32.35 198.00,30.79 198.50,29.40 199.00,28.18 199.50,27.12 200.00,26.25 200.50,25.55 201.00,25.03 201.50,24.69 202.00,24.53 202.50,24.55 203.00,24.75 203.50,25.14 204.00,25.70 204.50,26.44 205.00,27.36 205.50,28.45 206.00,29.72 206.50,31.15 207.00,32.74 207.50,34.50 208.00,36.41 208.50,38.47 209.00,40.68 209.50,43.02 210.00,45.50 210.50,48.10 211.00,50.83 211.50,53.67 212.00,56.61 212.50,59.65 213.00,62.78 213.50,65.99 214.00,69.28 214.50,72.64 215.00,76.05 215.50,79.51 216.00,83.01 216.50,86.55 217.00,90.10 217.50,93.68 218.00,97.25 218.50,100.83 219.00,104.40 219.50,107.94 220.00,111.46 220.50,114.95 221.00,118.39 221.50,121.78 222.00,125.12 222.50,128.39 223.00,131.58 223.50,134.70 224.00,137.73 224.50,140.67 225.00,143.52 225.50,146.26 226.00,148.90 226.50,151.42 227.00,153.83 227.50,156.12 228.00,158.29 228.50,160.33 229.00,162.24 229.50,164.02 230.00,165.67 230.50,167.18 231.00,168.56 231.50,169.81 232.00,170.91 232.50,171.89 233.00,172.73 233.50,173.43 234.00,174.01 234.50,174.45 235.00,174.77 235.50,174.96 236.00,175.03 236.50,174.99 237.00,174.82 237.50,174.55 238.00,174.17 238.50,173.68 239.00,173.10 239.50,172.43 240.00,171.67 240.50,170.82 241.00,169.90 241.50,168.91 242.00,167.86 242.50,166.74 243.00,165.57 243.50,164.36 244.00,163.10 244.50,161.80 245.00,160.48 245.50,159.14 246.00,157.77 246.50,156.40 247.00,155.02 247.50,153.64 248.00,152.27 248.50,150.91 249.00,149.57 249.50,148.25 250.00,146.96 250.50,145.70 251.00,144.47 251.50,143.29 252.00,142.15 252.50,141.06 253.00,140.02 253.50,139.04 254.00,138.12 254.50,137.26 255.00,136.46 255.50,135.73 256.00,135.06 256.50,134.47 257.00,133.95 257.50,133.49 258.00,133.12 258.50,132.81 259.00,132.57 259.50,132.41 260.00,132.32 260.50,132.30 261.00,132.35 261.50,132.47 262.00,132.65 262.50,132.90 263.00,133.21 263.50,133.58 264.00,134.01 264.50,134.49 265.00,135.03 265.50,135.62 266.00,136.25 266.50,136.92 267.00,137.63 267.50,138.38 268.00,139.16 268.50,139.96 269.00,140.79 269.50,141.64 270.00,142.51 270.50,143.39 271.00,144.27 271.50,145.16 272.00,146.05 272.50,146.94 273.00,147.82 273.50,148.69 274.00,149.55 274.50,150.38 275.00,151.20 275.50,151.99 276.00,152.76 276.50,153.49 277.00,154.19 277.50,154.85 278.00,155.48 278.50,156.07 279.00,156.61 279.50,157.11 280.00,157.57 280.50,157.98 281.00,158.34 281.50,158.65 282.00,158.91 282.50,159.12 283.00,159.28 283.50,159.39 284.00,159.45 284.50,159.46 285.00,159.42 285.50,159.33 286.00,159.20 286.50,159.01 287.00,158.79 287.50,158.51 288.00,158.20 288.50,157.84 289.00,157.45 289.50,157.02 290.00,156.56 290.50,156.07 291.00,155.54 291.50,154.99 292.00,154.42 292.50,153.83 293.00,153.21 293.50,152.58 294.00,151.94 294.50,151.29 295.00,150.64 295.50,149.98 296.00,149.32 296.50,148.66 297.00,148.00 297.50,147.36 298.00,146.72 298.50,146.09 299.00,145.49 299.50,144.90 300.00,144.33 300.50,143.78 301.00,143.26 301.50,142.76 302.00,142.30 302.50,141.86 303.00,141.45 303.50,141.08 304.00,140.75 304.50,140.45 305.00,140.18 305.50,139.96 306.00,139.77 306.50,139.62 307.00,139.51 307.50,139.44 308.00,139.40 308.50,139.41 309.00,139.46 309.50,139.54 310.00,139.66 310.50,139.81 311.00,140.00 311.50,140.23 312.00,140.49 312.50,140.77 313.00,141.09 313.50,141.44 314.00,141.81 314.50,142.21 315.00,142.63 315.50,143.07 316.00,143.53 316.50,144.01 317.00,144.50 317.50,145.00 318.00,145.51 318.50,146.03 319.00,146.55 319.50,147.08 320.00,147.61 320.50,148.13"/>
<polyline stroke="#ffff00" stroke-width="1.60" shape-rendering="crispEdges" points="36.50,148.17 37.00,148.50 37.50,148.83 38.00,149.15 38.50,149.48 39.00,149.80 39.50,150.11 40.00,150.42 40.50,150.72 41.00,151.01 41.50,151.28 42.00,151.55 42.50,151.80 43.00,152.04 43.50,152.26 44.00,152.47 44.50,152.66 45.00,152.83 45.50,152.98 46.00,153.10 46.50,153.21 47.00,153.30 47.50,153.36 48.00,153.40 48.50,153.42 49.00,153.42 49.50,153.39 50.00,153.34 50.50,153.27 51.00,153.17 51.50,153.05 52.00,152.91 52.50,152.75 53.00,152.56 53.50,152.36 54.00,152.13 54.50,151.89 55.00,151.63 55.50,151.35 56.00,151.05 56.50,150.75 57.00,150.42 57.50,150.09 58.00,149.75 58.50,149.40 59.00,149.04 59.50,148.67 60.00,148.30 60.50,147.92 61.00,147.55 61.50,147.18 62.00,146.80 62.50,146.44 63.00,146.07 63.50,145.72 64.00,145.37 64.50,145.03 65.00,144.71 65.50,144.40 66.00,144.10 66.50,143.82 67.00,143.55 67.50,143.31 68.00,143.08 68.50,142.88 69.00,142.70 69.50,142.54 70.00,142.40 70.50,142.29 71.00,142.21 71.50,142.15 72.00,142.12 72.50,142.11 73.00,142.13 73.50,142.18 74.00,142.25 74.50,142.35 75.00,142.48 75.50,142.63 76.00,142.81 76.50,143.01 77.00,143.24 77.50,143.49 78.00,143.76 78.50,144.06 79.00,144.37 79.50,144.70 80.00,145.06 80.50,145.42 81.00,145.80 81.50,146.20 82.00,146.61 82.50,147.02 83.00,147.45 83.50,147.88 84.00,148.31 84.50,148.75 85.00,149.19 85.50,149.62 86.00,150.06 86.50,150.48 87.00,150.90 87.50,151.32 88.00,151.72 88.50,152.10 89.00,152.48 89.50,152.83 90.00,153.17 90.50,153.49 91.00,153.79 91.50,154.07 92.00,154.32 92.50,154.55 93.00,154.75 93.50,154.92 94.00,155.06 94.50,155.18 95.00,155.26 95.50,155.32 96.00,155.34 96.50,155.33 97.00,155.29 97.50,155.22 98.00,155.11 98.50,154.98 99.00,154.81 99.50,154.61 100.00,154.39 100.50,154.13 101.00,153.85 101.50,153.53 102.00,153.20 102.50,152.83 103.00,152.44 103.50,152.04 104.00,151.61 104.50,151.16 105.00,150.69 105.50,150.21 106.00,149.72 106.50,149.21 107.00,148.70 107.50,148.18 108.00,147.66 108.50,147.13 109.00,146.61 109.50,146.08 110.00,145.56 110.50,145.05 111.00,144.55 111.50,144.06 112.00,143.58 112.50,143.12 113.00,142.67 113.50,142.25 114.00,141.85 114.50,141.48 115.00,141.13 115.50,140.80 116.00,140.51 116.50,140.25 117.00,140.02 117.50,139.83 118.00,139.67 118.50,139.55 119.00,139.46 119.50,139.41 120.00,139.40 120.50,139.43 121.00,139.50 121.50,139.61 122.00,139.75 122.50,139.94 123.00,140.16 123.50,140.42 124.00,140.72 124.50,141.05 125.00,141.42 125.50,141.82 126.00,142.25 126.50,142.71 127.00,143.21 127.50,143.73 128.00,144.27 128.50,144.84 129.00,145.43 129.50,146.03 130.00,146.66 130.50,147.29 131.00,147.94 131.50,148.59 132.00,149.25 132.50,149.91 133.00,150.57 133.50,151.23 134.00,151.88 134.50,152.52 135.00,153.15 135.50,153.76 136.00,154.36 136.50,154.94 137.00,155.49 137.50,156.01 138.00,156.51 138.50,156.98 139.00,157.41 139.50,157.81 140.00,158.17 140.50,158.48 141.00,158.76 141.50,158.99 142.00,159.18 142.50,159.32 143.00,159.42 143.50,159.46 144.00,159.46 144.50,159.40 145.00,159.30 145.50,159.14 146.00,158.93 146.50,158.68 147.00,158.37 147.50,158.02 148.00,157.61 148.50,157.16 149.00,156.67 149.50,156.13 150.00,155.54 150.50,154.92 151.00,154.26 151.50,153.56 152.00,152.83 152.50,152.07 153.00,151.28 153.50,150.47 154.00,149.63 154.50,148.78 155.00,147.91 155.50,147.03 156.00,146.14 156.50,145.25 157.00,144.36 157.50,143.48 158.00,142.60 158.50,141.73 159.00,140.88 159.50,140.05 160.00,139.24 160.50,138.46 161.00,137.71 161.50,136.99 162.00,136.31 162.50,135.68 163.00,135.09 163.50,134.55 164.00,134.06 164.50,133.62 165.00,133.24 165.50,132.93 166.00,132.67 166.50,132.48 167.00,132.36 167.50,132.30 168.00,132.31 168.50,132.40 169.00,132.55 169.50,132.78 170.00,133.08 170.50,133.45 171.00,133.90 171.50,134.41 172.00,135.00 172.50,135.66 173.00,136.38 173.50,137.17 174.00,138.03 174.50,138.95 175.00,139.92 175.50,140.95 176.00,142.04 176.50,143.17 177.00,144.35 177.50,145.57 178.00,146.83 178.50,148.12 179.00,149.44 179.50,150.78 180.00,152.14 180.50,153.51 181.00,154.88 181.50,156.26 182.00,157.64 182.50,159.00 183.00,160.35 183.50,161.67 184.00,162.97 184.50,164.23 185.00,165.45 185.50,166.63 186.00,167.75 186.50,168.81 187.00,169.81 187.50,170.74 188.00,171.59 188.50,172.36 189.00,173.04 189.50,173.63 190.00,174.12 190.50,174.52 191.00,174.80 191.50,174.97 192.00,175.03 192.50,174.98 193.00,174.80 193.50,174.49 194.00,174.06 194.50,173.50 195.00,172.80 195.50,171.98 196.00,171.02 196.50,169.92 197.00,168.69 197.50,167.33 198.00,165.82 198.50,164.19 199.00,162.42 199.50,160.52 200.00,158.50 200.50,156.34 201.00,154.07 201.50,151.67 202.00,149.16 202.50,146.53 203.00,143.80 203.50,140.96 204.00,138.03 204.50,135.01 205.00,131.90 205.50,128.71 206.00,125.45 206.50,122.12 207.00,118.73 207.50,115.30 208.00,111.81 208.50,108.30 209.00,104.75 209.50,101.19 210.00,97.61 210.50,94.03 211.00,90.46 211.50,86.90 212.00,83.36 212.50,79.86 213.00,76.39 213.50,72.98 214.00,69.62 214.50,66.32 215.00,63.10 215.50,59.96 216.00,56.91 216.50,53.96 217.00,51.11 217.50,48.37 218.00,45.75 218.50,43.26 219.00,40.91 219.50,38.69 220.00,36.61 220.50,34.68 221.00,32.91 221.50,31.30 222.00,29.85 222.50,28.57 223.00,27.46 223.50,26.53 224.00,25.77 224.50,25.18 225.00,24.78 225.50,24.56 226.00,24.52 226.50,24.66 227.00,24.99 227.50,25.49 228.00,26.17 228.50,27.03 229.00,28.06 229.50,29.27 230.00,30.64 230.50,32.18 231.00,33.89 231.50,35.74 232.00,37.75 232.50,39.91 233.00,42.21 233.50,44.64 234.00,47.20 234.50,49.89 235.00,52.69 235.50,55.60 236.00,58.60 236.50,61.71 237.00,64.89 237.50,68.16 238.00,71.49 238.50,74.88 239.00,78.33 239.50,81.82 240.00,85.34 240.50,88.89 241.00,92.46 241.50,96.04 242.00,99.62 242.50,103.19 243.00,106.74 243.50,110.27 244.00,113.77 244.50,117.23 245.00,120.64 245.50,123.99 246.00,127.28 246.50,130.50 247.00,133.65 247.50,136.71 248.00,139.68 248.50,142.56 249.00,145.34 249.50,148.01 250.00,150.58 250.50,153.03 251.00,155.36 251.50,157.56 252.00,159.65 252.50,161.60 253.00,163.43 253.50,165.12 254.00,166.68 254.50,168.11 255.00,169.40 255.50,170.55 256.00,171.57 256.50,172.46 257.00,173.21 257.50,173.83 258.00,174.32 258.50,174.68 259.00,174.91 259.50,175.02 260.00,175.01 260.50,174.89 261.00,174.65 261.50,174.31 262.00,173.86 262.50,173.31 263.00,172.67 263.50,171.94 264.00,171.12 264.50,170.23 265.00,169.26 265.50,168.22 266.00,167.13 266.50,165.98 267.00,164.77 267.50,163.53 268.00,162.25 268.50,160.93 269.00,159.60 269.50,158.24 270.00,156.87 270.50,155.49 271.00,154.11 271.50,152.74 272.00,151.37 272.50,150.02 273.00,148.70 273.50,147.39 274.00,146.12 274.50,144.88 275.00,143.68 275.50,142.53 276.00,141.42 276.50,140.37 277.00,139.37 277.50,138.42 278.00,137.54 278.50,136.72 279.00,135.97 279.50,135.28 280.00,134.66 280.50,134.12 281.00,133.64 281.50,133.24 282.00,132.90 282.50,132.64 283.00,132.46 283.50,132.34 284.00,132.30 284.50,132.32 285.00,132.42 285.50,132.58 286.00,132.81 286.50,133.10 287.00,133.45 287.50,133.86 288.00,134.32 288.50,134.84 289.00,135.41 289.50,136.03 290.00,136.69 290.50,137.39 291.00,138.12 291.50,138.89 292.00,139.69 292.50,140.51 293.00,141.35 293.50,142.21 294.00,143.09 294.50,143.97 295.00,144.86 295.50,145.75 296.00,146.64 296.50,147.52 297.00,148.40 297.50,149.26 298.00,150.10 298.50,150.92 299.00,151.72 299.50,152.50 300.00,153.24 300.50,153.96 301.00,154.63 301.50,155.27 302.00,155.87 302.50,156.43 303.00,156.95 303.50,157.42 304.00,157.84 304.50,158.22 305.00,158.55 305.50,158.83 306.00,159.06 306.50,159.23 307.00,159.36 307.50,159.44 308.00,159.46 308.50,159.44 309.00,159.37 309.50,159.25 310.00,159.08 310.50,158.87 311.00,158.61 311.50,158.31 312.00,157.97 312.50,157.59 313.00,157.17 313.50,156.72 314.00,156.24 314.50,155.72 315.00,155.18 315.50,154.62 316.00,154.03 316.50,153.42 317.00,152.80 317.50,152.16 318.00,151.52 318.50,150.86 319.00,150.20 319.50,149.54 320.00,148.88 320.50,148.22"/>
<rect x="126.18" y="19.86" width="10.80" height="10.29" rx="4.20" ry="3.89" stroke="#000" stroke-width="1.10"/>
<rect x="149.85" y="19.86" width="10.80" height="10.29" rx="4.20" ry="3.89" stroke="#000" stroke-width="1.10"/>
<rect x="173.52" y="19.86" width="10.80" height="10.29" rx="4.20" ry="3.89" stroke="#000" stroke-width="1.10"/>
<rect x="197.19" y="19.86" width="10.80" height="10.29" rx="4.20" ry="3.89" stroke="#000" stroke-width="1.10"/>
<rect x="220.86" y="19.86" width="10.80" height="10.29" rx="4.20" ry="3.89" stroke="#000" stroke-width="1.10"/>
<rect x="29.50" y="143.51" width="10.80" height="10.29" rx="4.20" ry="3.89" stroke="#000" stroke-width="1.10"/>
<rect x="55.17" y="143.51" width="10.80" height="10.29" rx="4.20" ry="3.89" stroke="#000" stroke-width="1.10"/>
<rect x="78.84" y="143.51" width="10.80" height="10.29" rx="4.20" ry="3.89" stroke="#000" stroke-width="1.10"/>
<rect x="102.51" y="143.51" width="10.80" height="10.29" rx="4.20" ry="3.89" stroke="#000" stroke-width="1.10"/>
<rect x="244.53" y="143.51" width="10.80" height="10.29" rx="4.20" ry="3.89" stroke="#000" stroke-width="1.10"/>
<rect x="268.20" y="143.51" width="10.80" height="10.29" rx="4.20" ry="3.89" stroke="#000" stroke-width="1.10"/>
<rect x="291.87" y="143.51" width="10.80" height="10.29" rx="4.20" ry="3.89" stroke="#000" stroke-width="1.10"/>
</g>
<text transform="translate(1.60,19.6) scale(0.55,1)" font-size="26" font-weight="bold" font-family="Liberation Serif, serif">(a)</text>
<text x="96.00" y="352" font-size="18.8" font-family="Liberation Sans, sans-serif" textLength="166.0" lengthAdjust="spacingAndGlyphs" stroke="#000" stroke-width="0.35">Frequency (Carrier spacings)</text>
<text transform="translate(9.90,205.70) rotate(-90) scale(1.621,1)" x="-0.24" font-size="10.80" font-family="Liberation Sans, sans-serif" stroke="#000" stroke-width="0.10">T</text>
<text transform="translate(9.90,193.50) rotate(-90) scale(1.453,1)" x="-0.12" font-size="10.80" font-family="Liberation Sans, sans-serif" stroke="#000" stroke-width="0.10">x</text>
<text transform="translate(9.90,175.20) rotate(-90) scale(1.722,1)" x="-0.89" font-size="10.80" font-family="Liberation Sans, sans-serif" stroke="#000" stroke-width="0.10">P</text>
<text transform="translate(9.90,162.00) rotate(-90) scale(1.314,1)" x="-0.45" font-size="10.80" font-family="Liberation Sans, sans-serif" stroke="#000" stroke-width="0.10">o</text>
<text transform="translate(9.90,150.70) rotate(-90) scale(1.658,1)" x="0.02" font-size="10.80" font-family="Liberation Sans, sans-serif" stroke="#000" stroke-width="0.10">w</text>
<text transform="translate(9.90,135.40) rotate(-90) scale(1.500,1)" x="-0.46" font-size="10.80" font-family="Liberation Sans, sans-serif" stroke="#000" stroke-width="0.10">e</text>
<text transform="translate(9.90,120.20) rotate(-90) scale(1.704,1)" x="-0.72" font-size="10.80" font-family="Liberation Sans, sans-serif" stroke="#000" stroke-width="0.10">r</text>
<line x1="394.20" y1="8.60" x2="394.20" y2="314.10" stroke="#8c8c8c" stroke-width="1.60"/>
<line x1="393.20" y1="313.10" x2="681.30" y2="313.10" stroke="#000" stroke-width="2"/>
<line x1="394.20" y1="42.70" x2="398.70" y2="42.70" stroke="#000" stroke-width="1.6"/>
<rect x="388.10" y="34.50" width="1.60" height="13.50" fill="#000"/><path d="M388.30,35.20 l-1.50,2.20" stroke="#000" stroke-width="1.1" fill="none"/>
<line x1="394.20" y1="87.50" x2="398.70" y2="87.50" stroke="#000" stroke-width="1.6"/>
<text transform="matrix(0.0900,0,0,0.1907,375.65,92.61)" font-size="100" font-family="Liberation Sans, sans-serif" stroke="#000" stroke-width="0.30" vector-effect="non-scaling-stroke">0</text>
<text transform="matrix(0.1260,0,0,0.1496,381.45,92.80)" font-size="100" font-family="Liberation Sans, sans-serif" stroke="#000" stroke-width="0.30" vector-effect="non-scaling-stroke">.</text>
<text transform="matrix(0.1044,0,0,0.1907,385.85,92.61)" font-size="100" font-family="Liberation Sans, sans-serif" stroke="#000" stroke-width="0.30" vector-effect="non-scaling-stroke">8</text>
<line x1="394.20" y1="129.80" x2="398.70" y2="129.80" stroke="#000" stroke-width="1.6"/>
<text transform="matrix(0.0900,0,0,0.1907,375.65,134.91)" font-size="100" font-family="Liberation Sans, sans-serif" stroke="#000" stroke-width="0.30" vector-effect="non-scaling-stroke">0</text>
<text transform="matrix(0.1260,0,0,0.1496,381.45,135.10)" font-size="100" font-family="Liberation Sans, sans-serif" stroke="#000" stroke-width="0.30" vector-effect="non-scaling-stroke">.</text>
<text transform="matrix(0.1062,0,0,0.1907,385.76,134.91)" font-size="100" font-family="Liberation Sans, sans-serif" stroke="#000" stroke-width="0.30" vector-effect="non-scaling-stroke">6</text>
<line x1="394.20" y1="173.00" x2="398.70" y2="173.00" stroke="#000" stroke-width="1.6"/>
<text transform="matrix(0.0900,0,0,0.1907,375.65,178.11)" font-size="100" font-family="Liberation Sans, sans-serif" stroke="#000" stroke-width="0.30" vector-effect="non-scaling-stroke">0</text>
<text transform="matrix(0.1260,0,0,0.1496,381.45,178.30)" font-size="100" font-family="Liberation Sans, sans-serif" stroke="#000" stroke-width="0.30" vector-effect="non-scaling-stroke">.</text>
<text transform="matrix(0.0972,0,0,0.1962,386.08,178.30)" font-size="100" font-family="Liberation Sans, sans-serif" stroke="#000" stroke-width="0.30" vector-effect="non-scaling-stroke">4</text>
<line x1="394.20" y1="216.20" x2="398.70" y2="216.20" stroke="#000" stroke-width="1.6"/>
<text transform="matrix(0.0900,0,0,0.1907,375.65,221.31)" font-size="100" font-family="Liberation Sans, sans-serif" stroke="#000" stroke-width="0.30" vector-effect="non-scaling-stroke">0</text>
<text transform="matrix(0.1260,0,0,0.1496,381.45,221.50)" font-size="100" font-family="Liberation Sans, sans-serif" stroke="#000" stroke-width="0.30" vector-effect="non-scaling-stroke">.</text>
<text transform="matrix(0.1076,0,0,0.1933,385.76,221.50)" font-size="100" font-family="Liberation Sans, sans-serif" stroke="#000" stroke-width="0.30" vector-effect="non-scaling-stroke">2</text>
<line x1="394.20" y1="259.70" x2="398.70" y2="259.70" stroke="#000" stroke-width="1.6"/>
<text transform="matrix(0.0920,0,0,0.1907,384.64,264.81)" font-size="100" font-family="Liberation Sans, sans-serif" stroke="#000" stroke-width="0.30" vector-effect="non-scaling-stroke">0</text>
<line x1="394.20" y1="303.10" x2="398.70" y2="303.10" stroke="#000" stroke-width="1.6"/>
<rect x="370.45" y="303.70" width="1.9" height="1.6" fill="#000"/>
<text transform="matrix(0.0910,0,0,0.1907,373.84,308.21)" font-size="100" font-family="Liberation Sans, sans-serif" stroke="#000" stroke-width="0.30" vector-effect="non-scaling-stroke">0</text>
<text transform="matrix(0.1418,0,0,0.1496,379.91,308.40)" font-size="100" font-family="Liberation Sans, sans-serif" stroke="#000" stroke-width="0.30" vector-effect="non-scaling-stroke">.</text>
<text transform="matrix(0.1087,0,0,0.1933,384.30,308.40)" font-size="100" font-family="Liberation Sans, sans-serif" stroke="#000" stroke-width="0.30" vector-effect="non-scaling-stroke">2</text>
<line x1="394.20" y1="313.10" x2="394.20" y2="308.10" stroke="#000" stroke-width="1.6"/>
<rect x="387.35" y="328.00" width="1.9" height="1.6" fill="#000"/>
<text transform="matrix(0.1257,0,0,0.1879,390.66,334.02)" font-size="100" font-family="Liberation Sans, sans-serif" stroke="#000" stroke-width="0.30" vector-effect="non-scaling-stroke">6</text>
<line x1="418.07" y1="313.10" x2="418.07" y2="308.10" stroke="#000" stroke-width="1.6"/>
<rect x="411.23" y="328.00" width="1.9" height="1.6" fill="#000"/>
<text transform="matrix(0.1160,0,0,0.1906,414.86,334.01)" font-size="100" font-family="Liberation Sans, sans-serif" stroke="#000" stroke-width="0.30" vector-effect="non-scaling-stroke">5</text>
<line x1="441.95" y1="313.10" x2="441.95" y2="308.10" stroke="#000" stroke-width="1.6"/>
<rect x="435.10" y="328.00" width="1.9" height="1.6" fill="#000"/>
<text transform="matrix(0.1310,0,0,0.1933,438.35,334.20)" font-size="100" font-family="Liberation Sans, sans-serif" stroke="#000" stroke-width="0.30" vector-effect="non-scaling-stroke">4</text>
<line x1="465.82" y1="313.10" x2="465.82" y2="308.10" stroke="#000" stroke-width="1.6"/>
<rect x="458.98" y="328.00" width="1.9" height="1.6" fill="#000"/>
<text transform="matrix(0.1160,0,0,0.1879,462.63,334.02)" font-size="100" font-family="Liberation Sans, sans-serif" stroke="#000" stroke-width="0.30" vector-effect="non-scaling-stroke">3</text>
<line x1="489.70" y1="313.10" x2="489.70" y2="308.10" stroke="#000" stroke-width="1.6"/>
<rect x="482.85" y="328.00" width="1.9" height="1.6" fill="#000"/>
<text transform="matrix(0.1207,0,0,0.1905,486.34,334.20)" font-size="100" font-family="Liberation Sans, sans-serif" stroke="#000" stroke-width="0.30" vector-effect="non-scaling-stroke">2</text>
<line x1="513.58" y1="313.10" x2="513.58" y2="308.10" stroke="#000" stroke-width="1.6"/>
<rect x="506.73" y="328.00" width="1.9" height="1.6" fill="#000"/>
<rect x="512.58" y="320.90" width="1.60" height="13.30" fill="#000"/><path d="M512.78,321.60 l-1.50,2.20" stroke="#000" stroke-width="1.1" fill="none"/>
<line x1="537.45" y1="313.10" x2="537.45" y2="308.10" stroke="#000" stroke-width="1.6"/>
<text transform="matrix(0.1025,0,0,0.1879,534.60,334.02)" font-size="100" font-family="Liberation Sans, sans-serif" stroke="#000" stroke-width="0.30" vector-effect="non-scaling-stroke">0</text>
<line x1="561.33" y1="313.10" x2="561.33" y2="308.10" stroke="#000" stroke-width="1.6"/>
<rect x="560.33" y="320.90" width="1.60" height="13.30" fill="#000"/><path d="M560.53,321.60 l-1.50,2.20" stroke="#000" stroke-width="1.1" fill="none"/>
<line x1="585.20" y1="313.10" x2="585.20" y2="308.10" stroke="#000" stroke-width="1.6"/>
<text transform="matrix(0.1207,0,0,0.1905,581.84,334.20)" font-size="100" font-family="Liberation Sans, sans-serif" stroke="#000" stroke-width="0.30" vector-effect="non-scaling-stroke">2</text>
<line x1="609.08" y1="313.10" x2="609.08" y2="308.10" stroke="#000" stroke-width="1.6"/>
<text transform="matrix(0.1160,0,0,0.1879,605.88,334.02)" font-size="100" font-family="Liberation Sans, sans-serif" stroke="#000" stroke-width="0.30" vector-effect="non-scaling-stroke">3</text>
<line x1="632.95" y1="313.10" x2="632.95" y2="308.10" stroke="#000" stroke-width="1.6"/>
<text transform="matrix(0.1310,0,0,0.1933,629.35,334.20)" font-size="100" font-family="Liberation Sans, sans-serif" stroke="#000" stroke-width="0.30" vector-effect="non-scaling-stroke">4</text>
<line x1="656.83" y1="313.10" x2="656.83" y2="308.10" stroke="#000" stroke-width="1.6"/>
<text transform="matrix(0.1160,0,0,0.1906,653.61,334.01)" font-size="100" font-family="Liberation Sans, sans-serif" stroke="#000" stroke-width="0.30" vector-effect="non-scaling-stroke">5</text>
<line x1="680.70" y1="313.10" x2="680.70" y2="308.10" stroke="#000" stroke-width="1.6"/>
<text transform="matrix(0.1257,0,0,0.1879,677.16,334.02)" font-size="100" font-family="Liberation Sans, sans-serif" stroke="#000" stroke-width="0.30" vector-effect="non-scaling-stroke">6</text>
<g transform="matrix(1,0,0,1.7500,0,0)" fill="none" stroke-linejoin="round">
<polyline stroke="#ff00ff" stroke-width="1.35" shape-rendering="crispEdges" points="394.20,148.40 394.70,149.05 395.20,149.71 395.70,150.37 396.20,151.02 396.70,151.67 397.20,152.32 397.70,152.95 398.20,153.57 398.70,154.18 399.20,154.77 399.70,155.33 400.20,155.88 400.70,156.39 401.20,156.88 401.70,157.33 402.20,157.76 402.70,158.14 403.20,158.49 403.70,158.80 404.20,159.07 404.70,159.29 405.20,159.47 405.70,159.60 406.20,159.69 406.70,159.72 407.20,159.71 407.70,159.65 408.20,159.54 408.70,159.38 409.20,159.17 409.70,158.91 410.20,158.60 410.70,158.24 411.20,157.84 411.70,157.39 412.20,156.89 412.70,156.35 413.20,155.77 413.70,155.15 414.20,154.49 414.70,153.80 415.20,153.07 415.70,152.32 416.20,151.53 416.70,150.72 417.20,149.89 417.70,149.05 418.20,148.18 418.70,147.31 419.20,146.43 419.70,145.54 420.20,144.66 420.70,143.78 421.20,142.90 421.70,142.04 422.20,141.19 422.70,140.36 423.20,139.55 423.70,138.77 424.20,138.02 424.70,137.30 425.20,136.62 425.70,135.98 426.20,135.39 426.70,134.84 427.20,134.34 427.70,133.90 428.20,133.51 428.70,133.18 429.20,132.91 429.70,132.71 430.20,132.57 430.70,132.49 431.20,132.49 431.70,132.55 432.20,132.69 432.70,132.89 433.20,133.17 433.70,133.51 434.20,133.93 434.70,134.42 435.20,134.98 435.70,135.61 436.20,136.31 436.70,137.07 437.20,137.90 437.70,138.79 438.20,139.73 438.70,140.74 439.20,141.79 439.70,142.90 440.20,144.05 440.70,145.25 441.20,146.49 441.70,147.75 442.20,149.05 442.70,150.38 443.20,151.72 443.70,153.08 444.20,154.44 444.70,155.81 445.20,157.18 445.70,158.54 446.20,159.89 446.70,161.22 447.20,162.53 447.70,163.80 448.20,165.04 448.70,166.23 449.20,167.38 449.70,168.47 450.20,169.50 450.70,170.47 451.20,171.36 451.70,172.18 452.20,172.91 452.70,173.56 453.20,174.11 453.70,174.57 454.20,174.92 454.70,175.17 455.20,175.31 455.70,175.33 456.20,175.24 456.70,175.02 457.20,174.68 457.70,174.22 458.20,173.63 458.70,172.90 459.20,172.05 459.70,171.06 460.20,169.94 460.70,168.69 461.20,167.30 461.70,165.78 462.20,164.13 462.70,162.35 463.20,160.44 463.70,158.40 464.20,156.24 464.70,153.96 465.20,151.56 465.70,149.05 466.20,146.42 466.70,143.69 467.20,140.86 467.70,137.94 468.20,134.92 468.70,131.83 469.20,128.65 469.70,125.40 470.20,122.09 470.70,118.72 471.20,115.30 471.70,111.84 472.20,108.34 472.70,104.82 473.20,101.27 473.70,97.72 474.20,94.16 474.70,90.61 475.20,87.07 475.70,83.55 476.20,80.07 476.70,76.62 477.20,73.22 477.70,69.87 478.20,66.59 478.70,63.38 479.20,60.25 479.70,57.21 480.20,54.26 480.70,51.42 481.20,48.68 481.70,46.07 482.20,43.57 482.70,41.20 483.20,38.98 483.70,36.89 484.20,34.94 484.70,33.15 485.20,31.52 485.70,30.05 486.20,28.74 486.70,27.60 487.20,26.62 487.70,25.83 488.20,25.20 488.70,24.76 489.20,24.49 489.70,24.40 490.20,24.49 490.70,24.76 491.20,25.20 491.70,25.83 492.20,26.62 492.70,27.60 493.20,28.74 493.70,30.05 494.20,31.52 494.70,33.15 495.20,34.94 495.70,36.89 496.20,38.98 496.70,41.20 497.20,43.57 497.70,46.07 498.20,48.68 498.70,51.42 499.20,54.26 499.70,57.21 500.20,60.25 500.70,63.38 501.20,66.59 501.70,69.87 502.20,73.22 502.70,76.62 503.20,80.07 503.70,83.55 504.20,87.07 504.70,90.61 505.20,94.16 505.70,97.72 506.20,101.27 506.70,104.82 507.20,108.34 507.70,111.84 508.20,115.30 508.70,118.72 509.20,122.09 509.70,125.40 510.20,128.65 510.70,131.83 511.20,134.92 511.70,137.94 512.20,140.86 512.70,143.69 513.20,146.42 513.70,149.05 514.20,151.56 514.70,153.96 515.20,156.24 515.70,158.40 516.20,160.44 516.70,162.35 517.20,164.13 517.70,165.78 518.20,167.30 518.70,168.69 519.20,169.94 519.70,171.06 520.20,172.05 520.70,172.90 521.20,173.63 521.70,174.22 522.20,174.68 522.70,175.02 523.20,175.24 523.70,175.33 524.20,175.31 524.70,175.17 525.20,174.92 525.70,174.57 526.20,174.11 526.70,173.56 527.20,172.91 527.70,172.18 528.20,171.36 528.70,170.47 529.20,169.50 529.70,168.47 530.20,167.38 530.70,166.23 531.20,165.04 531.70,163.80 532.20,162.53 532.70,161.22 533.20,159.89 533.70,158.54 534.20,157.18 534.70,155.81 535.20,154.44 535.70,153.08 536.20,151.72 536.70,150.38 537.20,149.05 537.70,147.75 538.20,146.49 538.70,145.25 539.20,144.05 539.70,142.90 540.20,141.79 540.70,140.74 541.20,139.73 541.70,138.79 542.20,137.90 542.70,137.07 543.20,136.31 543.70,135.61 544.20,134.98 544.70,134.42 545.20,133.93 545.70,133.51 546.20,133.17 546.70,132.89 547.20,132.69 547.70,132.55 548.20,132.49 548.70,132.49 549.20,132.57 549.70,132.71 550.20,132.91 550.70,133.18 551.20,133.51 551.70,133.90 552.20,134.34 552.70,134.84 553.20,135.39 553.70,135.98 554.20,136.62 554.70,137.30 555.20,138.02 555.70,138.77 556.20,139.55 556.70,140.36 557.20,141.19 557.70,142.04 558.20,142.90 558.70,143.78 559.20,144.66 559.70,145.54 560.20,146.43 560.70,147.31 561.20,148.18 561.70,149.05 562.20,149.89 562.70,150.72 563.20,151.53 563.70,152.32 564.20,153.07 564.70,153.80 565.20,154.49 565.70,155.15 566.20,155.77 566.70,156.35 567.20,156.89 567.70,157.39 568.20,157.84 568.70,158.24 569.20,158.60 569.70,158.91 570.20,159.17 570.70,159.38 571.20,159.54 571.70,159.65 572.20,159.71 572.70,159.72 573.20,159.69 573.70,159.60 574.20,159.47 574.70,159.29 575.20,159.07 575.70,158.80 576.20,158.49 576.70,158.14 577.20,157.76 577.70,157.33 578.20,156.88 578.70,156.39 579.20,155.88 579.70,155.33 580.20,154.77 580.70,154.18 581.20,153.57 581.70,152.95 582.20,152.32 582.70,151.67 583.20,151.02 583.70,150.37 584.20,149.71 584.70,149.05 585.20,148.40 585.70,147.75 586.20,147.12 586.70,146.49 587.20,145.89 587.70,145.29 588.20,144.72 588.70,144.17 589.20,143.64 589.70,143.14 590.20,142.67 590.70,142.22 591.20,141.81 591.70,141.43 592.20,141.08 592.70,140.77 593.20,140.49 593.70,140.25 594.20,140.05 594.70,139.88 595.20,139.76 595.70,139.67 596.20,139.62 596.70,139.61 597.20,139.63 597.70,139.70 598.20,139.80 598.70,139.94 599.20,140.11 599.70,140.32 600.20,140.56 600.70,140.83 601.20,141.13 601.70,141.46 602.20,141.81 602.70,142.20 603.20,142.60 603.70,143.03 604.20,143.48 604.70,143.94 605.20,144.42 605.70,144.91 606.20,145.41 606.70,145.92 607.20,146.44 607.70,146.96 608.20,147.49 608.70,148.01 609.20,148.53 609.70,149.05 610.20,149.55 610.70,150.05 611.20,150.54 611.70,151.02 612.20,151.47 612.70,151.92 613.20,152.34 613.70,152.74 614.20,153.13 614.70,153.48 615.20,153.82 615.70,154.12 616.20,154.41 616.70,154.66 617.20,154.88 617.70,155.07 618.20,155.24 618.70,155.37 619.20,155.47 619.70,155.54 620.20,155.58 620.70,155.59 621.20,155.56 621.70,155.51 622.20,155.43 622.70,155.31 623.20,155.17 623.70,155.00 624.20,154.80 624.70,154.57 625.20,154.33 625.70,154.05 626.20,153.76 626.70,153.44 627.20,153.10 627.70,152.75 628.20,152.38 628.70,152.00 629.20,151.60 629.70,151.19 630.20,150.77 630.70,150.35 631.20,149.92 631.70,149.49 632.20,149.05 632.70,148.62 633.20,148.18 633.70,147.76 634.20,147.33 634.70,146.92 635.20,146.51 635.70,146.12 636.20,145.73 636.70,145.36 637.20,145.01 637.70,144.67 638.20,144.36 638.70,144.06 639.20,143.78 639.70,143.53 640.20,143.29 640.70,143.08 641.20,142.90 641.70,142.74 642.20,142.60 642.70,142.49 643.20,142.41 643.70,142.36 644.20,142.33 644.70,142.32 645.20,142.34 645.70,142.39 646.20,142.47 646.70,142.57 647.20,142.69 647.70,142.84 648.20,143.01 648.70,143.20 649.20,143.42 649.70,143.65 650.20,143.91 650.70,144.18 651.20,144.46 651.70,144.77 652.20,145.08 652.70,145.41 653.20,145.75 653.70,146.10 654.20,146.46 654.70,146.82 655.20,147.19 655.70,147.56 656.20,147.94 656.70,148.31 657.20,148.68 657.70,149.04 658.20,149.41 658.70,149.76 659.20,150.11 659.70,150.45 660.20,150.77 660.70,151.09 661.20,151.39 661.70,151.68 662.20,151.95 662.70,152.20 663.20,152.44 663.70,152.66 664.20,152.86 664.70,153.03 665.20,153.19 665.70,153.33 666.20,153.44 666.70,153.53 667.20,153.60 667.70,153.64 668.20,153.66 668.70,153.66 669.20,153.64 669.70,153.60 670.20,153.53 670.70,153.44 671.20,153.33 671.70,153.20 672.20,153.04 672.70,152.87 673.20,152.68 673.70,152.48 674.20,152.26 674.70,152.02 675.20,151.76 675.70,151.50 676.20,151.22 676.70,150.93 677.20,150.63 677.70,150.33 678.20,150.02 678.70,149.70 679.20,149.38 679.70,149.05 680.20,148.73 680.70,148.40"/>
<polyline stroke="#0000ff" stroke-width="1.35" shape-rendering="crispEdges" points="394.20,148.40 394.70,147.88 395.20,147.36 395.70,146.83 396.20,146.31 396.70,145.80 397.20,145.29 397.70,144.79 398.20,144.30 398.70,143.82 399.20,143.36 399.70,142.92 400.20,142.50 400.70,142.10 401.20,141.72 401.70,141.37 402.20,141.05 402.70,140.76 403.20,140.49 403.70,140.26 404.20,140.06 404.70,139.90 405.20,139.77 405.70,139.68 406.20,139.62 406.70,139.61 407.20,139.63 407.70,139.69 408.20,139.78 408.70,139.92 409.20,140.09 409.70,140.31 410.20,140.56 410.70,140.84 411.20,141.16 411.70,141.52 412.20,141.91 412.70,142.33 413.20,142.78 413.70,143.26 414.20,143.77 414.70,144.31 415.20,144.86 415.70,145.44 416.20,146.04 416.70,146.65 417.20,147.28 417.70,147.92 418.20,148.56 418.70,149.22 419.20,149.87 419.70,150.53 420.20,151.19 420.70,151.84 421.20,152.48 421.70,153.11 422.20,153.73 422.70,154.33 423.20,154.91 423.70,155.47 424.20,156.01 424.70,156.52 425.20,157.00 425.70,157.44 426.20,157.86 426.70,158.23 427.20,158.57 427.70,158.87 428.20,159.13 428.70,159.34 429.20,159.50 429.70,159.63 430.20,159.70 430.70,159.72 431.20,159.70 431.70,159.63 432.20,159.50 432.70,159.33 433.20,159.11 433.70,158.84 434.20,158.52 434.70,158.15 435.20,157.73 435.70,157.27 436.20,156.76 436.70,156.21 437.20,155.62 437.70,154.99 438.20,154.32 438.70,153.62 439.20,152.89 439.70,152.12 440.20,151.33 440.70,150.52 441.20,149.68 441.70,148.83 442.20,147.97 442.70,147.09 443.20,146.21 443.70,145.32 444.20,144.44 444.70,143.56 445.20,142.68 445.70,141.82 446.20,140.98 446.70,140.15 447.20,139.35 447.70,138.58 448.20,137.84 448.70,137.13 449.20,136.46 449.70,135.83 450.20,135.25 450.70,134.71 451.20,134.23 451.70,133.80 452.20,133.42 452.70,133.11 453.20,132.86 453.70,132.67 454.20,132.54 454.70,132.49 455.20,132.50 455.70,132.58 456.20,132.73 456.70,132.95 457.20,133.25 457.70,133.61 458.20,134.05 458.70,134.56 459.20,135.13 459.70,135.78 460.20,136.49 460.70,137.27 461.20,138.11 461.70,139.02 462.20,139.98 462.70,141.00 463.20,142.07 463.70,143.19 464.20,144.35 464.70,145.56 465.20,146.80 465.70,148.08 466.20,149.38 466.70,150.71 467.20,152.06 467.70,153.42 468.20,154.79 468.70,156.16 469.20,157.52 469.70,158.88 470.20,160.23 470.70,161.55 471.20,162.85 471.70,164.12 472.20,165.34 472.70,166.53 473.20,167.66 473.70,168.74 474.20,169.75 474.70,170.70 475.20,171.57 475.70,172.37 476.20,173.08 476.70,173.71 477.20,174.24 477.70,174.67 478.20,174.99 478.70,175.22 479.20,175.33 479.70,175.32 480.20,175.20 480.70,174.95 481.20,174.58 481.70,174.08 482.20,173.46 482.70,172.70 483.20,171.82 483.70,170.80 484.20,169.64 484.70,168.36 485.20,166.94 485.70,165.38 486.20,163.70 486.70,161.89 487.20,159.94 487.70,157.87 488.20,155.68 488.70,153.37 489.20,150.94 489.70,148.40 490.20,145.75 490.70,142.99 491.20,140.14 491.70,137.19 492.20,134.16 492.70,131.04 493.20,127.84 493.70,124.58 494.20,121.25 494.70,117.87 495.20,114.44 495.70,110.97 496.20,107.46 496.70,103.93 497.20,100.39 497.70,96.83 498.20,93.27 498.70,89.72 499.20,86.19 499.70,82.68 500.20,79.20 500.70,75.76 501.20,72.38 501.70,69.05 502.20,65.78 502.70,62.59 503.20,59.48 503.70,56.46 504.20,53.54 504.70,50.72 505.20,48.02 505.70,45.43 506.20,42.97 506.70,40.63 507.20,38.44 507.70,36.39 508.20,34.48 508.70,32.73 509.20,31.14 509.70,29.70 510.20,28.44 510.70,27.34 511.20,26.41 511.70,25.65 512.20,25.08 512.70,24.67 513.20,24.45 513.70,24.41 514.20,24.54 514.70,24.85 515.20,25.34 515.70,26.01 516.20,26.85 516.70,27.87 517.20,29.05 517.70,30.40 518.20,31.91 518.70,33.59 519.20,35.42 519.70,37.40 520.20,39.52 520.70,41.78 521.20,44.18 521.70,46.71 522.20,49.36 522.70,52.12 523.20,54.99 523.70,57.96 524.20,61.03 524.70,64.18 525.20,67.41 525.70,70.70 526.20,74.06 526.70,77.48 527.20,80.93 527.70,84.43 528.20,87.95 528.70,91.50 529.20,95.05 529.70,98.61 530.20,102.16 530.70,105.70 531.20,109.22 531.70,112.71 532.20,116.16 532.70,119.57 533.20,122.92 533.70,126.22 534.20,129.45 534.70,132.61 535.20,135.69 535.70,138.68 536.20,141.58 536.70,144.38 537.20,147.09 537.70,149.68 538.20,152.17 538.70,154.54 539.20,156.79 539.70,158.92 540.20,160.93 540.70,162.81 541.20,164.56 541.70,166.18 542.20,167.66 542.70,169.02 543.20,170.24 543.70,171.32 544.20,172.28 544.70,173.10 545.20,173.79 545.70,174.35 546.20,174.78 546.70,175.09 547.20,175.27 547.70,175.34 548.20,175.28 548.70,175.12 549.20,174.84 549.70,174.46 550.20,173.98 550.70,173.41 551.20,172.74 551.70,171.98 552.20,171.15 552.70,170.23 553.20,169.25 553.70,168.20 554.20,167.10 554.70,165.94 555.20,164.73 555.70,163.49 556.20,162.20 556.70,160.89 557.20,159.56 557.70,158.21 558.20,156.84 558.70,155.47 559.20,154.10 559.70,152.74 560.20,151.38 560.70,150.04 561.20,148.73 561.70,147.43 562.20,146.17 562.70,144.95 563.20,143.76 563.70,142.62 564.20,141.52 564.70,140.48 565.20,139.49 565.70,138.56 566.20,137.68 566.70,136.87 567.20,136.13 567.70,135.45 568.20,134.84 568.70,134.29 569.20,133.82 569.70,133.42 570.20,133.09 570.70,132.83 571.20,132.65 571.70,132.53 572.20,132.48 572.70,132.51 573.20,132.60 573.70,132.75 574.20,132.97 574.70,133.26 575.20,133.60 575.70,134.00 576.20,134.46 576.70,134.97 577.20,135.53 577.70,136.14 578.20,136.79 578.70,137.48 579.20,138.20 579.70,138.96 580.20,139.75 580.70,140.56 581.20,141.40 581.70,142.25 582.20,143.12 582.70,144.00 583.20,144.88 583.70,145.76 584.20,146.65 584.70,147.53 585.20,148.40 585.70,149.26 586.20,150.10 586.70,150.93 587.20,151.73 587.70,152.51 588.20,153.26 588.70,153.97 589.20,154.66 589.70,155.31 590.20,155.92 590.70,156.49 591.20,157.02 591.70,157.50 592.20,157.94 592.70,158.34 593.20,158.68 593.70,158.98 594.20,159.23 594.70,159.42 595.20,159.57 595.70,159.67 596.20,159.72 596.70,159.72 597.20,159.67 597.70,159.57 598.20,159.43 598.70,159.24 599.20,159.00 599.70,158.73 600.20,158.41 600.70,158.05 601.20,157.65 601.70,157.22 602.20,156.76 602.70,156.27 603.20,155.74 603.70,155.19 604.20,154.62 604.70,154.03 605.20,153.42 605.70,152.79 606.20,152.16 606.70,151.51 607.20,150.86 607.70,150.20 608.20,149.54 608.70,148.89 609.20,148.24 609.70,147.59 610.20,146.96 610.70,146.34 611.20,145.74 611.70,145.15 612.20,144.58 612.70,144.04 613.20,143.51 613.70,143.02 614.20,142.55 614.70,142.12 615.20,141.71 615.70,141.34 616.20,141.00 616.70,140.69 617.20,140.43 617.70,140.20 618.20,140.00 618.70,139.85 619.20,139.73 619.70,139.65 620.20,139.61 620.70,139.61 621.20,139.65 621.70,139.72 622.20,139.83 622.70,139.98 623.20,140.16 623.70,140.37 624.20,140.62 624.70,140.90 625.20,141.21 625.70,141.54 626.20,141.91 626.70,142.30 627.20,142.71 627.70,143.14 628.20,143.59 628.70,144.06 629.20,144.54 629.70,145.03 630.20,145.54 630.70,146.05 631.20,146.57 631.70,147.09 632.20,147.62 632.70,148.14 633.20,148.66 633.70,149.17 634.20,149.68 634.70,150.18 635.20,150.66 635.70,151.13 636.20,151.59 636.70,152.03 637.20,152.44 637.70,152.84 638.20,153.22 638.70,153.57 639.20,153.90 639.70,154.20 640.20,154.47 640.70,154.72 641.20,154.93 641.70,155.12 642.20,155.27 642.70,155.40 643.20,155.49 643.70,155.55 644.20,155.58 644.70,155.58 645.20,155.55 645.70,155.49 646.20,155.40 646.70,155.28 647.20,155.13 647.70,154.95 648.20,154.75 648.70,154.51 649.20,154.26 649.70,153.98 650.20,153.68 650.70,153.36 651.20,153.02 651.70,152.66 652.20,152.29 652.70,151.90 653.20,151.50 653.70,151.09 654.20,150.67 654.70,150.24 655.20,149.81 655.70,149.38 656.20,148.94 656.70,148.51 657.20,148.08 657.70,147.65 658.20,147.23 658.70,146.81 659.20,146.41 659.70,146.02 660.20,145.64 660.70,145.27 661.20,144.92 661.70,144.59 662.20,144.28 662.70,143.99 663.20,143.71 663.70,143.46 664.20,143.24 664.70,143.03 665.20,142.86 665.70,142.70 666.20,142.57 666.70,142.47 667.20,142.40 667.70,142.35 668.20,142.32 668.70,142.33 669.20,142.35 669.70,142.41 670.20,142.49 670.70,142.60 671.20,142.73 671.70,142.88 672.20,143.06 672.70,143.26 673.20,143.47 673.70,143.71 674.20,143.97 674.70,144.25 675.20,144.54 675.70,144.85 676.20,145.17 676.70,145.50 677.20,145.84 677.70,146.19 678.20,146.55 678.70,146.92 679.20,147.28 679.70,147.66 680.20,148.03 680.70,148.40"/>
<polyline stroke="#00ff00" stroke-width="1.35" shape-rendering="crispEdges" points="394.20,148.40 394.70,148.83 395.20,149.27 395.70,149.70 396.20,150.14 396.70,150.56 397.20,150.98 397.70,151.40 398.20,151.80 398.70,152.19 399.20,152.57 399.70,152.93 400.20,153.27 400.70,153.60 401.20,153.91 401.70,154.19 402.20,154.45 402.70,154.69 403.20,154.90 403.70,155.09 404.20,155.24 404.70,155.37 405.20,155.47 405.70,155.54 406.20,155.58 406.70,155.59 407.20,155.56 407.70,155.51 408.20,155.42 408.70,155.31 409.20,155.16 409.70,154.98 410.20,154.77 410.70,154.53 411.20,154.27 411.70,153.97 412.20,153.65 412.70,153.31 413.20,152.94 413.70,152.55 414.20,152.13 414.70,151.70 415.20,151.25 415.70,150.78 416.20,150.30 416.70,149.80 417.20,149.30 417.70,148.79 418.20,148.27 418.70,147.75 419.20,147.22 419.70,146.70 420.20,146.18 420.70,145.67 421.20,145.16 421.70,144.66 422.20,144.18 422.70,143.71 423.20,143.25 423.70,142.81 424.20,142.40 424.70,142.00 425.20,141.63 425.70,141.29 426.20,140.97 426.70,140.69 427.20,140.43 427.70,140.21 428.20,140.02 428.70,139.86 429.20,139.74 429.70,139.66 430.20,139.62 430.70,139.61 431.20,139.64 431.70,139.71 432.20,139.81 432.70,139.96 433.20,140.14 433.70,140.37 434.20,140.62 434.70,140.92 435.20,141.25 435.70,141.61 436.20,142.01 436.70,142.44 437.20,142.90 437.70,143.39 438.20,143.90 438.70,144.44 439.20,145.00 439.70,145.59 440.20,146.19 440.70,146.81 441.20,147.44 441.70,148.08 442.20,148.73 442.70,149.38 443.20,150.04 443.70,150.69 444.20,151.35 444.70,152.00 445.20,152.64 445.70,153.26 446.20,153.88 446.70,154.48 447.20,155.05 447.70,155.61 448.20,156.14 448.70,156.64 449.20,157.11 449.70,157.55 450.20,157.95 450.70,158.32 451.20,158.65 451.70,158.94 452.20,159.18 452.70,159.38 453.20,159.54 453.70,159.65 454.20,159.71 454.70,159.72 455.20,159.69 455.70,159.60 456.20,159.47 456.70,159.28 457.20,159.04 457.70,158.76 458.20,158.43 458.70,158.05 459.20,157.62 459.70,157.14 460.20,156.63 460.70,156.07 461.20,155.47 461.70,154.83 462.20,154.15 462.70,153.44 463.20,152.70 463.70,151.93 464.20,151.13 464.70,150.31 465.20,149.47 465.70,148.62 466.20,147.75 466.70,146.87 467.20,145.99 467.70,145.10 468.20,144.22 468.70,143.34 469.20,142.47 469.70,141.61 470.20,140.77 470.70,139.95 471.20,139.16 471.70,138.39 472.20,137.66 472.70,136.96 473.20,136.30 473.70,135.68 474.20,135.11 474.70,134.59 475.20,134.11 475.70,133.70 476.20,133.34 476.70,133.04 477.20,132.80 477.70,132.63 478.20,132.52 478.70,132.48 479.20,132.51 479.70,132.61 480.20,132.78 480.70,133.02 481.20,133.33 481.70,133.72 482.20,134.17 482.70,134.69 483.20,135.29 483.70,135.95 484.20,136.68 484.70,137.48 485.20,138.33 485.70,139.25 486.20,140.23 486.70,141.26 487.20,142.34 487.70,143.47 488.20,144.65 488.70,145.86 489.20,147.12 489.70,148.40 490.20,149.71 490.70,151.04 491.20,152.40 491.70,153.76 492.20,155.13 492.70,156.50 493.20,157.86 493.70,159.22 494.20,160.56 494.70,161.88 495.20,163.17 495.70,164.43 496.20,165.64 496.70,166.81 497.20,167.93 497.70,169.00 498.20,169.99 498.70,170.92 499.20,171.78 499.70,172.56 500.20,173.25 500.70,173.85 501.20,174.35 501.70,174.76 502.20,175.06 502.70,175.25 503.20,175.33 503.70,175.30 504.20,175.15 504.70,174.87 505.20,174.47 505.70,173.94 506.20,173.28 506.70,172.49 507.20,171.57 507.70,170.52 508.20,169.33 508.70,168.01 509.20,166.56 509.70,164.97 510.20,163.26 510.70,161.41 511.20,159.44 511.70,157.34 512.20,155.12 512.70,152.77 513.20,150.32 513.70,147.75 514.20,145.07 514.70,142.29 515.20,139.41 515.70,136.44 516.20,133.39 516.70,130.25 517.20,127.03 517.70,123.75 518.20,120.41 518.70,117.02 519.20,113.58 519.70,110.10 520.20,106.58 520.70,103.05 521.20,99.50 521.70,95.94 522.20,92.38 522.70,88.84 523.20,85.31 523.70,81.80 524.20,78.34 524.70,74.91 525.20,71.54 525.70,68.22 526.20,64.98 526.70,61.81 527.20,58.72 527.70,55.72 528.20,52.83 528.70,50.04 529.20,47.36 529.70,44.80 530.20,42.37 530.70,40.07 531.20,37.91 531.70,35.90 532.20,34.03 532.70,32.32 533.20,30.76 533.70,29.37 534.20,28.15 534.70,27.09 535.20,26.20 535.70,25.49 536.20,24.96 536.70,24.60 537.20,24.42 537.70,24.42 538.20,24.60 538.70,24.96 539.20,25.49 539.70,26.20 540.20,27.09 540.70,28.15 541.20,29.37 541.70,30.76 542.20,32.32 542.70,34.03 543.20,35.90 543.70,37.91 544.20,40.07 544.70,42.37 545.20,44.80 545.70,47.36 546.20,50.04 546.70,52.83 547.20,55.72 547.70,58.72 548.20,61.81 548.70,64.98 549.20,68.22 549.70,71.54 550.20,74.91 550.70,78.34 551.20,81.80 551.70,85.31 552.20,88.84 552.70,92.38 553.20,95.94 553.70,99.50 554.20,103.05 554.70,106.58 555.20,110.10 555.70,113.58 556.20,117.02 556.70,120.41 557.20,123.75 557.70,127.03 558.20,130.25 558.70,133.39 559.20,136.44 559.70,139.41 560.20,142.29 560.70,145.07 561.20,147.75 561.70,150.32 562.20,152.77 562.70,155.12 563.20,157.34 563.70,159.44 564.20,161.41 564.70,163.26 565.20,164.97 565.70,166.56 566.20,168.01 566.70,169.33 567.20,170.52 567.70,171.57 568.20,172.49 568.70,173.28 569.20,173.94 569.70,174.47 570.20,174.87 570.70,175.15 571.20,175.30 571.70,175.33 572.20,175.25 572.70,175.06 573.20,174.76 573.70,174.35 574.20,173.85 574.70,173.25 575.20,172.56 575.70,171.78 576.20,170.92 576.70,169.99 577.20,169.00 577.70,167.93 578.20,166.81 578.70,165.64 579.20,164.43 579.70,163.17 580.20,161.88 580.70,160.56 581.20,159.22 581.70,157.86 582.20,156.50 582.70,155.13 583.20,153.76 583.70,152.40 584.20,151.04 584.70,149.71 585.20,148.40 585.70,147.12 586.20,145.86 586.70,144.65 587.20,143.47 587.70,142.34 588.20,141.26 588.70,140.23 589.20,139.25 589.70,138.33 590.20,137.48 590.70,136.68 591.20,135.95 591.70,135.29 592.20,134.69 592.70,134.17 593.20,133.72 593.70,133.33 594.20,133.02 594.70,132.78 595.20,132.61 595.70,132.51 596.20,132.48 596.70,132.52 597.20,132.63 597.70,132.80 598.20,133.04 598.70,133.34 599.20,133.70 599.70,134.11 600.20,134.59 600.70,135.11 601.20,135.68 601.70,136.30 602.20,136.96 602.70,137.66 603.20,138.39 603.70,139.16 604.20,139.95 604.70,140.77 605.20,141.61 605.70,142.47 606.20,143.34 606.70,144.22 607.20,145.10 607.70,145.99 608.20,146.87 608.70,147.75 609.20,148.62 609.70,149.47 610.20,150.31 610.70,151.13 611.20,151.93 611.70,152.70 612.20,153.44 612.70,154.15 613.20,154.83 613.70,155.47 614.20,156.07 614.70,156.63 615.20,157.14 615.70,157.62 616.20,158.05 616.70,158.43 617.20,158.76 617.70,159.04 618.20,159.28 618.70,159.47 619.20,159.60 619.70,159.69 620.20,159.72 620.70,159.71 621.20,159.65 621.70,159.54 622.20,159.38 622.70,159.18 623.20,158.94 623.70,158.65 624.20,158.32 624.70,157.95 625.20,157.55 625.70,157.11 626.20,156.64 626.70,156.14 627.20,155.61 627.70,155.05 628.20,154.48 628.70,153.88 629.20,153.26 629.70,152.64 630.20,152.00 630.70,151.35 631.20,150.69 631.70,150.04 632.20,149.38 632.70,148.73 633.20,148.08 633.70,147.44 634.20,146.81 634.70,146.19 635.20,145.59 635.70,145.00 636.20,144.44 636.70,143.90 637.20,143.39 637.70,142.90 638.20,142.44 638.70,142.01 639.20,141.61 639.70,141.25 640.20,140.92 640.70,140.62 641.20,140.37 641.70,140.14 642.20,139.96 642.70,139.81 643.20,139.71 643.70,139.64 644.20,139.61 644.70,139.62 645.20,139.66 645.70,139.74 646.20,139.86 646.70,140.02 647.20,140.21 647.70,140.43 648.20,140.69 648.70,140.97 649.20,141.29 649.70,141.63 650.20,142.00 650.70,142.40 651.20,142.81 651.70,143.25 652.20,143.71 652.70,144.18 653.20,144.66 653.70,145.16 654.20,145.67 654.70,146.18 655.20,146.70 655.70,147.22 656.20,147.75 656.70,148.27 657.20,148.79 657.70,149.30 658.20,149.80 658.70,150.30 659.20,150.78 659.70,151.25 660.20,151.70 660.70,152.13 661.20,152.55 661.70,152.94 662.20,153.31 662.70,153.65 663.20,153.97 663.70,154.27 664.20,154.53 664.70,154.77 665.20,154.98 665.70,155.16 666.20,155.31 666.70,155.42 667.20,155.51 667.70,155.56 668.20,155.59 668.70,155.58 669.20,155.54 669.70,155.47 670.20,155.37 670.70,155.24 671.20,155.09 671.70,154.90 672.20,154.69 672.70,154.45 673.20,154.19 673.70,153.91 674.20,153.60 674.70,153.27 675.20,152.93 675.70,152.57 676.20,152.19 676.70,151.80 677.20,151.40 677.70,150.98 678.20,150.56 678.70,150.14 679.20,149.70 679.70,149.27 680.20,148.83 680.70,148.40"/>
<polyline stroke="#ff0000" stroke-width="1.35" shape-rendering="crispEdges" points="394.20,148.40 394.70,148.03 395.20,147.66 395.70,147.28 396.20,146.92 396.70,146.55 397.20,146.19 397.70,145.84 398.20,145.50 398.70,145.17 399.20,144.85 399.70,144.54 400.20,144.25 400.70,143.97 401.20,143.71 401.70,143.47 402.20,143.26 402.70,143.06 403.20,142.88 403.70,142.73 404.20,142.60 404.70,142.49 405.20,142.41 405.70,142.35 406.20,142.33 406.70,142.32 407.20,142.35 407.70,142.40 408.20,142.47 408.70,142.57 409.20,142.70 409.70,142.86 410.20,143.03 410.70,143.24 411.20,143.46 411.70,143.71 412.20,143.99 412.70,144.28 413.20,144.59 413.70,144.92 414.20,145.27 414.70,145.64 415.20,146.02 415.70,146.41 416.20,146.81 416.70,147.23 417.20,147.65 417.70,148.08 418.20,148.51 418.70,148.94 419.20,149.38 419.70,149.81 420.20,150.24 420.70,150.67 421.20,151.09 421.70,151.50 422.20,151.90 422.70,152.29 423.20,152.66 423.70,153.02 424.20,153.36 424.70,153.68 425.20,153.98 425.70,154.26 426.20,154.51 426.70,154.75 427.20,154.95 427.70,155.13 428.20,155.28 428.70,155.40 429.20,155.49 429.70,155.55 430.20,155.58 430.70,155.58 431.20,155.55 431.70,155.49 432.20,155.40 432.70,155.27 433.20,155.12 433.70,154.93 434.20,154.72 434.70,154.47 435.20,154.20 435.70,153.90 436.20,153.57 436.70,153.22 437.20,152.84 437.70,152.44 438.20,152.03 438.70,151.59 439.20,151.13 439.70,150.66 440.20,150.18 440.70,149.68 441.20,149.17 441.70,148.66 442.20,148.14 442.70,147.62 443.20,147.09 443.70,146.57 444.20,146.05 444.70,145.54 445.20,145.03 445.70,144.54 446.20,144.06 446.70,143.59 447.20,143.14 447.70,142.71 448.20,142.30 448.70,141.91 449.20,141.54 449.70,141.21 450.20,140.90 450.70,140.62 451.20,140.37 451.70,140.16 452.20,139.98 452.70,139.83 453.20,139.72 453.70,139.65 454.20,139.61 454.70,139.61 455.20,139.65 455.70,139.73 456.20,139.85 456.70,140.00 457.20,140.20 457.70,140.43 458.20,140.69 458.70,141.00 459.20,141.34 459.70,141.71 460.20,142.12 460.70,142.55 461.20,143.02 461.70,143.51 462.20,144.04 462.70,144.58 463.20,145.15 463.70,145.74 464.20,146.34 464.70,146.96 465.20,147.59 465.70,148.24 466.20,148.89 466.70,149.54 467.20,150.20 467.70,150.86 468.20,151.51 468.70,152.16 469.20,152.79 469.70,153.42 470.20,154.03 470.70,154.62 471.20,155.19 471.70,155.74 472.20,156.27 472.70,156.76 473.20,157.22 473.70,157.65 474.20,158.05 474.70,158.41 475.20,158.73 475.70,159.00 476.20,159.24 476.70,159.43 477.20,159.57 477.70,159.67 478.20,159.72 478.70,159.72 479.20,159.67 479.70,159.57 480.20,159.42 480.70,159.23 481.20,158.98 481.70,158.68 482.20,158.34 482.70,157.94 483.20,157.50 483.70,157.02 484.20,156.49 484.70,155.92 485.20,155.31 485.70,154.66 486.20,153.97 486.70,153.26 487.20,152.51 487.70,151.73 488.20,150.93 488.70,150.10 489.20,149.26 489.70,148.40 490.20,147.53 490.70,146.65 491.20,145.76 491.70,144.88 492.20,144.00 492.70,143.12 493.20,142.25 493.70,141.40 494.20,140.56 494.70,139.75 495.20,138.96 495.70,138.20 496.20,137.48 496.70,136.79 497.20,136.14 497.70,135.53 498.20,134.97 498.70,134.46 499.20,134.00 499.70,133.60 500.20,133.26 500.70,132.97 501.20,132.75 501.70,132.60 502.20,132.51 502.70,132.48 503.20,132.53 503.70,132.65 504.20,132.83 504.70,133.09 505.20,133.42 505.70,133.82 506.20,134.29 506.70,134.84 507.20,135.45 507.70,136.13 508.20,136.87 508.70,137.68 509.20,138.56 509.70,139.49 510.20,140.48 510.70,141.52 511.20,142.62 511.70,143.76 512.20,144.95 512.70,146.17 513.20,147.43 513.70,148.73 514.20,150.04 514.70,151.38 515.20,152.74 515.70,154.10 516.20,155.47 516.70,156.84 517.20,158.21 517.70,159.56 518.20,160.89 518.70,162.20 519.20,163.49 519.70,164.73 520.20,165.94 520.70,167.10 521.20,168.20 521.70,169.25 522.20,170.23 522.70,171.15 523.20,171.98 523.70,172.74 524.20,173.41 524.70,173.98 525.20,174.46 525.70,174.84 526.20,175.12 526.70,175.28 527.20,175.34 527.70,175.27 528.20,175.09 528.70,174.78 529.20,174.35 529.70,173.79 530.20,173.10 530.70,172.28 531.20,171.32 531.70,170.24 532.20,169.02 532.70,167.66 533.20,166.18 533.70,164.56 534.20,162.81 534.70,160.93 535.20,158.92 535.70,156.79 536.20,154.54 536.70,152.17 537.20,149.68 537.70,147.09 538.20,144.38 538.70,141.58 539.20,138.68 539.70,135.69 540.20,132.61 540.70,129.45 541.20,126.22 541.70,122.92 542.20,119.57 542.70,116.16 543.20,112.71 543.70,109.22 544.20,105.70 544.70,102.16 545.20,98.61 545.70,95.05 546.20,91.50 546.70,87.95 547.20,84.43 547.70,80.93 548.20,77.48 548.70,74.06 549.20,70.70 549.70,67.41 550.20,64.18 550.70,61.03 551.20,57.96 551.70,54.99 552.20,52.12 552.70,49.36 553.20,46.71 553.70,44.18 554.20,41.78 554.70,39.52 555.20,37.40 555.70,35.42 556.20,33.59 556.70,31.91 557.20,30.40 557.70,29.05 558.20,27.87 558.70,26.85 559.20,26.01 559.70,25.34 560.20,24.85 560.70,24.54 561.20,24.41 561.70,24.45 562.20,24.67 562.70,25.08 563.20,25.65 563.70,26.41 564.20,27.34 564.70,28.44 565.20,29.70 565.70,31.14 566.20,32.73 566.70,34.48 567.20,36.39 567.70,38.44 568.20,40.63 568.70,42.97 569.20,45.43 569.70,48.02 570.20,50.72 570.70,53.54 571.20,56.46 571.70,59.48 572.20,62.59 572.70,65.78 573.20,69.05 573.70,72.38 574.20,75.76 574.70,79.20 575.20,82.68 575.70,86.19 576.20,89.72 576.70,93.27 577.20,96.83 577.70,100.39 578.20,103.93 578.70,107.46 579.20,110.97 579.70,114.44 580.20,117.87 580.70,121.25 581.20,124.58 581.70,127.84 582.20,131.04 582.70,134.16 583.20,137.19 583.70,140.14 584.20,142.99 584.70,145.75 585.20,148.40 585.70,150.94 586.20,153.37 586.70,155.68 587.20,157.87 587.70,159.94 588.20,161.89 588.70,163.70 589.20,165.38 589.70,166.94 590.20,168.36 590.70,169.64 591.20,170.80 591.70,171.82 592.20,172.70 592.70,173.46 593.20,174.08 593.70,174.58 594.20,174.95 594.70,175.20 595.20,175.32 595.70,175.33 596.20,175.22 596.70,174.99 597.20,174.67 597.70,174.24 598.20,173.71 598.70,173.08 599.20,172.37 599.70,171.57 600.20,170.70 600.70,169.75 601.20,168.74 601.70,167.66 602.20,166.53 602.70,165.34 603.20,164.12 603.70,162.85 604.20,161.55 604.70,160.23 605.20,158.88 605.70,157.52 606.20,156.16 606.70,154.79 607.20,153.42 607.70,152.06 608.20,150.71 608.70,149.38 609.20,148.08 609.70,146.80 610.20,145.56 610.70,144.35 611.20,143.19 611.70,142.07 612.20,141.00 612.70,139.98 613.20,139.02 613.70,138.11 614.20,137.27 614.70,136.49 615.20,135.78 615.70,135.13 616.20,134.56 616.70,134.05 617.20,133.61 617.70,133.25 618.20,132.95 618.70,132.73 619.20,132.58 619.70,132.50 620.20,132.49 620.70,132.54 621.20,132.67 621.70,132.86 622.20,133.11 622.70,133.42 623.20,133.80 623.70,134.23 624.20,134.71 624.70,135.25 625.20,135.83 625.70,136.46 626.20,137.13 626.70,137.84 627.20,138.58 627.70,139.35 628.20,140.15 628.70,140.98 629.20,141.82 629.70,142.68 630.20,143.56 630.70,144.44 631.20,145.32 631.70,146.21 632.20,147.09 632.70,147.97 633.20,148.83 633.70,149.68 634.20,150.52 634.70,151.33 635.20,152.12 635.70,152.89 636.20,153.62 636.70,154.32 637.20,154.99 637.70,155.62 638.20,156.21 638.70,156.76 639.20,157.27 639.70,157.73 640.20,158.15 640.70,158.52 641.20,158.84 641.70,159.11 642.20,159.33 642.70,159.50 643.20,159.63 643.70,159.70 644.20,159.72 644.70,159.70 645.20,159.63 645.70,159.50 646.20,159.34 646.70,159.13 647.20,158.87 647.70,158.57 648.20,158.23 648.70,157.86 649.20,157.44 649.70,157.00 650.20,156.52 650.70,156.01 651.20,155.47 651.70,154.91 652.20,154.33 652.70,153.73 653.20,153.11 653.70,152.48 654.20,151.84 654.70,151.19 655.20,150.53 655.70,149.87 656.20,149.22 656.70,148.56 657.20,147.92 657.70,147.28 658.20,146.65 658.70,146.04 659.20,145.44 659.70,144.86 660.20,144.31 660.70,143.77 661.20,143.26 661.70,142.78 662.20,142.33 662.70,141.91 663.20,141.52 663.70,141.16 664.20,140.84 664.70,140.56 665.20,140.31 665.70,140.09 666.20,139.92 666.70,139.78 667.20,139.69 667.70,139.63 668.20,139.61 668.70,139.62 669.20,139.68 669.70,139.77 670.20,139.90 670.70,140.06 671.20,140.26 671.70,140.49 672.20,140.76 672.70,141.05 673.20,141.37 673.70,141.72 674.20,142.10 674.70,142.50 675.20,142.92 675.70,143.36 676.20,143.82 676.70,144.30 677.20,144.79 677.70,145.29 678.20,145.80 678.70,146.31 679.20,146.83 679.70,147.36 680.20,147.88 680.70,148.40"/>
<polyline stroke="#ffff00" stroke-width="1.35" shape-rendering="crispEdges" points="394.20,148.40 394.70,148.73 395.20,149.05 395.70,149.38 396.20,149.70 396.70,150.02 397.20,150.33 397.70,150.63 398.20,150.93 398.70,151.22 399.20,151.50 399.70,151.76 400.20,152.02 400.70,152.26 401.20,152.48 401.70,152.68 402.20,152.87 402.70,153.04 403.20,153.20 403.70,153.33 404.20,153.44 404.70,153.53 405.20,153.60 405.70,153.64 406.20,153.66 406.70,153.66 407.20,153.64 407.70,153.60 408.20,153.53 408.70,153.44 409.20,153.33 409.70,153.19 410.20,153.03 410.70,152.86 411.20,152.66 411.70,152.44 412.20,152.20 412.70,151.95 413.20,151.68 413.70,151.39 414.20,151.09 414.70,150.77 415.20,150.45 415.70,150.11 416.20,149.76 416.70,149.41 417.20,149.04 417.70,148.68 418.20,148.31 418.70,147.94 419.20,147.56 419.70,147.19 420.20,146.82 420.70,146.46 421.20,146.10 421.70,145.75 422.20,145.41 422.70,145.08 423.20,144.77 423.70,144.46 424.20,144.18 424.70,143.91 425.20,143.65 425.70,143.42 426.20,143.20 426.70,143.01 427.20,142.84 427.70,142.69 428.20,142.57 428.70,142.47 429.20,142.39 429.70,142.34 430.20,142.32 430.70,142.33 431.20,142.36 431.70,142.41 432.20,142.49 432.70,142.60 433.20,142.74 433.70,142.90 434.20,143.08 434.70,143.29 435.20,143.53 435.70,143.78 436.20,144.06 436.70,144.36 437.20,144.67 437.70,145.01 438.20,145.36 438.70,145.73 439.20,146.12 439.70,146.51 440.20,146.92 440.70,147.33 441.20,147.76 441.70,148.18 442.20,148.62 442.70,149.05 443.20,149.49 443.70,149.92 444.20,150.35 444.70,150.77 445.20,151.19 445.70,151.60 446.20,152.00 446.70,152.38 447.20,152.75 447.70,153.10 448.20,153.44 448.70,153.76 449.20,154.05 449.70,154.33 450.20,154.57 450.70,154.80 451.20,155.00 451.70,155.17 452.20,155.31 452.70,155.43 453.20,155.51 453.70,155.56 454.20,155.59 454.70,155.58 455.20,155.54 455.70,155.47 456.20,155.37 456.70,155.24 457.20,155.07 457.70,154.88 458.20,154.66 458.70,154.41 459.20,154.12 459.70,153.82 460.20,153.48 460.70,153.13 461.20,152.74 461.70,152.34 462.20,151.92 462.70,151.47 463.20,151.02 463.70,150.54 464.20,150.05 464.70,149.55 465.20,149.05 465.70,148.53 466.20,148.01 466.70,147.49 467.20,146.96 467.70,146.44 468.20,145.92 468.70,145.41 469.20,144.91 469.70,144.42 470.20,143.94 470.70,143.48 471.20,143.03 471.70,142.60 472.20,142.20 472.70,141.81 473.20,141.46 473.70,141.13 474.20,140.83 474.70,140.56 475.20,140.32 475.70,140.11 476.20,139.94 476.70,139.80 477.20,139.70 477.70,139.63 478.20,139.61 478.70,139.62 479.20,139.67 479.70,139.76 480.20,139.88 480.70,140.05 481.20,140.25 481.70,140.49 482.20,140.77 482.70,141.08 483.20,141.43 483.70,141.81 484.20,142.22 484.70,142.67 485.20,143.14 485.70,143.64 486.20,144.17 486.70,144.72 487.20,145.29 487.70,145.89 488.20,146.49 488.70,147.12 489.20,147.75 489.70,148.40 490.20,149.05 490.70,149.71 491.20,150.37 491.70,151.02 492.20,151.67 492.70,152.32 493.20,152.95 493.70,153.57 494.20,154.18 494.70,154.77 495.20,155.33 495.70,155.88 496.20,156.39 496.70,156.88 497.20,157.33 497.70,157.76 498.20,158.14 498.70,158.49 499.20,158.80 499.70,159.07 500.20,159.29 500.70,159.47 501.20,159.60 501.70,159.69 502.20,159.72 502.70,159.71 503.20,159.65 503.70,159.54 504.20,159.38 504.70,159.17 505.20,158.91 505.70,158.60 506.20,158.24 506.70,157.84 507.20,157.39 507.70,156.89 508.20,156.35 508.70,155.77 509.20,155.15 509.70,154.49 510.20,153.80 510.70,153.07 511.20,152.32 511.70,151.53 512.20,150.72 512.70,149.89 513.20,149.05 513.70,148.18 514.20,147.31 514.70,146.43 515.20,145.54 515.70,144.66 516.20,143.78 516.70,142.90 517.20,142.04 517.70,141.19 518.20,140.36 518.70,139.55 519.20,138.77 519.70,138.02 520.20,137.30 520.70,136.62 521.20,135.98 521.70,135.39 522.20,134.84 522.70,134.34 523.20,133.90 523.70,133.51 524.20,133.18 524.70,132.91 525.20,132.71 525.70,132.57 526.20,132.49 526.70,132.49 527.20,132.55 527.70,132.69 528.20,132.89 528.70,133.17 529.20,133.51 529.70,133.93 530.20,134.42 530.70,134.98 531.20,135.61 531.70,136.31 532.20,137.07 532.70,137.90 533.20,138.79 533.70,139.73 534.20,140.74 534.70,141.79 535.20,142.90 535.70,144.05 536.20,145.25 536.70,146.49 537.20,147.75 537.70,149.05 538.20,150.38 538.70,151.72 539.20,153.08 539.70,154.44 540.20,155.81 540.70,157.18 541.20,158.54 541.70,159.89 542.20,161.22 542.70,162.53 543.20,163.80 543.70,165.04 544.20,166.23 544.70,167.38 545.20,168.47 545.70,169.50 546.20,170.47 546.70,171.36 547.20,172.18 547.70,172.91 548.20,173.56 548.70,174.11 549.20,174.57 549.70,174.92 550.20,175.17 550.70,175.31 551.20,175.33 551.70,175.24 552.20,175.02 552.70,174.68 553.20,174.22 553.70,173.63 554.20,172.90 554.70,172.05 555.20,171.06 555.70,169.94 556.20,168.69 556.70,167.30 557.20,165.78 557.70,164.13 558.20,162.35 558.70,160.44 559.20,158.40 559.70,156.24 560.20,153.96 560.70,151.56 561.20,149.05 561.70,146.42 562.20,143.69 562.70,140.86 563.20,137.94 563.70,134.92 564.20,131.83 564.70,128.65 565.20,125.40 565.70,122.09 566.20,118.72 566.70,115.30 567.20,111.84 567.70,108.34 568.20,104.82 568.70,101.27 569.20,97.72 569.70,94.16 570.20,90.61 570.70,87.07 571.20,83.55 571.70,80.07 572.20,76.62 572.70,73.22 573.20,69.87 573.70,66.59 574.20,63.38 574.70,60.25 575.20,57.21 575.70,54.26 576.20,51.42 576.70,48.68 577.20,46.07 577.70,43.57 578.20,41.20 578.70,38.98 579.20,36.89 579.70,34.94 580.20,33.15 580.70,31.52 581.20,30.05 581.70,28.74 582.20,27.60 582.70,26.62 583.20,25.83 583.70,25.20 584.20,24.76 584.70,24.49 585.20,24.40 585.70,24.49 586.20,24.76 586.70,25.20 587.20,25.83 587.70,26.62 588.20,27.60 588.70,28.74 589.20,30.05 589.70,31.52 590.20,33.15 590.70,34.94 591.20,36.89 591.70,38.98 592.20,41.20 592.70,43.57 593.20,46.07 593.70,48.68 594.20,51.42 594.70,54.26 595.20,57.21 595.70,60.25 596.20,63.38 596.70,66.59 597.20,69.87 597.70,73.22 598.20,76.62 598.70,80.07 599.20,83.55 599.70,87.07 600.20,90.61 600.70,94.16 601.20,97.72 601.70,101.27 602.20,104.82 602.70,108.34 603.20,111.84 603.70,115.30 604.20,118.72 604.70,122.09 605.20,125.40 605.70,128.65 606.20,131.83 606.70,134.92 607.20,137.94 607.70,140.86 608.20,143.69 608.70,146.42 609.20,149.05 609.70,151.56 610.20,153.96 610.70,156.24 611.20,158.40 611.70,160.44 612.20,162.35 612.70,164.13 613.20,165.78 613.70,167.30 614.20,168.69 614.70,169.94 615.20,171.06 615.70,172.05 616.20,172.90 616.70,173.63 617.20,174.22 617.70,174.68 618.20,175.02 618.70,175.24 619.20,175.33 619.70,175.31 620.20,175.17 620.70,174.92 621.20,174.57 621.70,174.11 622.20,173.56 622.70,172.91 623.20,172.18 623.70,171.36 624.20,170.47 624.70,169.50 625.20,168.47 625.70,167.38 626.20,166.23 626.70,165.04 627.20,163.80 627.70,162.53 628.20,161.22 628.70,159.89 629.20,158.54 629.70,157.18 630.20,155.81 630.70,154.44 631.20,153.08 631.70,151.72 632.20,150.38 632.70,149.05 633.20,147.75 633.70,146.49 634.20,145.25 634.70,144.05 635.20,142.90 635.70,141.79 636.20,140.74 636.70,139.73 637.20,138.79 637.70,137.90 638.20,137.07 638.70,136.31 639.20,135.61 639.70,134.98 640.20,134.42 640.70,133.93 641.20,133.51 641.70,133.17 642.20,132.89 642.70,132.69 643.20,132.55 643.70,132.49 644.20,132.49 644.70,132.57 645.20,132.71 645.70,132.91 646.20,133.18 646.70,133.51 647.20,133.90 647.70,134.34 648.20,134.84 648.70,135.39 649.20,135.98 649.70,136.62 650.20,137.30 650.70,138.02 651.20,138.77 651.70,139.55 652.20,140.36 652.70,141.19 653.20,142.04 653.70,142.90 654.20,143.78 654.70,144.66 655.20,145.54 655.70,146.43 656.20,147.31 656.70,148.18 657.20,149.05 657.70,149.89 658.20,150.72 658.70,151.53 659.20,152.32 659.70,153.07 660.20,153.80 660.70,154.49 661.20,155.15 661.70,155.77 662.20,156.35 662.70,156.89 663.20,157.39 663.70,157.84 664.20,158.24 664.70,158.60 665.20,158.91 665.70,159.17 666.20,159.38 666.70,159.54 667.20,159.65 667.70,159.71 668.20,159.72 668.70,159.69 669.20,159.60 669.70,159.47 670.20,159.29 670.70,159.07 671.20,158.80 671.70,158.49 672.20,158.14 672.70,157.76 673.20,157.33 673.70,156.88 674.20,156.39 674.70,155.88 675.20,155.33 675.70,154.77 676.20,154.18 676.70,153.57 677.20,152.95 677.70,152.32 678.20,151.67 678.70,151.02 679.20,150.37 679.70,149.71 680.20,149.05 680.70,148.40"/>
<polyline stroke="#000" stroke-width="3.70" stroke-linecap="round" points="394.20,148.40 394.70,148.92 395.20,149.44 395.70,149.96 396.20,150.48 396.70,151.00 397.20,151.51 397.70,152.01 398.20,152.50 398.70,152.98 399.20,153.44 399.70,153.89 400.20,154.31 400.70,154.72 401.20,155.10 401.70,155.46 402.20,155.79 402.70,156.09 403.20,156.36 403.70,156.60 404.20,156.81 404.70,156.98 405.20,157.12 405.70,157.22 406.20,157.28 406.70,157.30 407.20,157.29 407.70,157.24 408.20,157.15 408.70,157.02 409.20,156.85 409.70,156.64 410.20,156.40 410.70,156.11 411.20,155.79 411.70,155.44 412.20,155.04 412.70,154.62 413.20,154.16 413.70,153.68 414.20,153.16 414.70,152.62 415.20,152.05 415.70,151.45 416.20,150.84 416.70,150.21 417.20,149.56 417.70,148.90 418.20,148.23 418.70,147.55 419.20,146.87 419.70,146.18 420.20,145.49 420.70,144.81 421.20,144.13 421.70,143.46 422.20,142.80 422.70,142.16 423.20,141.54 423.70,140.94 424.20,140.36 424.70,139.81 425.20,139.28 425.70,138.79 426.20,138.34 426.70,137.92 427.20,137.54 427.70,137.20 428.20,136.90 428.70,136.65 429.20,136.45 429.70,136.29 430.20,136.19 430.70,136.14 431.20,136.14 431.70,136.19 432.20,136.30 432.70,136.46 433.20,136.67 433.70,136.95 434.20,137.27 434.70,137.65 435.20,138.08 435.70,138.57 436.20,139.11 436.70,139.70 437.20,140.33 437.70,141.02 438.20,141.75 438.70,142.52 439.20,143.33 439.70,144.18 440.20,145.07 440.70,145.98 441.20,146.93 441.70,147.90 442.20,148.90 442.70,149.91 443.20,150.94 443.70,151.98 444.20,153.03 444.70,154.08 445.20,155.13 445.70,156.17 446.20,157.21 446.70,158.22 447.20,159.22 447.70,160.20 448.20,161.15 448.70,162.07 449.20,162.95 449.70,163.78 450.20,164.58 450.70,165.32 451.20,166.01 451.70,166.64 452.20,167.21 452.70,167.71 453.20,168.14 453.70,168.49 454.20,168.77 454.70,168.97 455.20,169.09 455.70,169.11 456.20,169.05 456.70,168.90 457.20,168.65 457.70,168.30 458.20,167.86 458.70,167.31 459.20,166.66 459.70,165.92 460.20,165.06 460.70,164.11 461.20,163.05 461.70,161.88 462.20,160.61 462.70,159.24 463.20,157.77 463.70,156.19 464.20,154.52 464.70,152.74 465.20,150.87 465.70,148.91 466.20,146.85 466.70,144.70 467.20,142.47 467.70,140.16 468.20,137.76 468.70,135.29 469.20,132.75 469.70,130.13 470.20,127.46 470.70,124.72 471.20,121.93 471.70,119.09 472.20,116.20 472.70,113.28 473.20,110.31 473.70,107.32 474.20,104.30 474.70,101.26 475.20,98.20 475.70,95.13 476.20,92.06 476.70,88.99 477.20,85.93 477.70,82.87 478.20,79.83 478.70,76.82 479.20,73.83 479.70,70.87 480.20,67.94 480.70,65.06 481.20,62.22 481.70,59.44 482.20,56.70 482.70,54.03 483.20,51.41 483.70,48.86 484.20,46.38 484.70,43.97 485.20,41.64 485.70,39.38 486.20,37.21 486.70,35.12 487.20,33.11 487.70,31.19 488.20,29.36 488.70,27.61 489.20,25.96 489.70,24.40 490.20,22.93 490.70,21.55 491.20,20.27 491.70,19.08 492.20,17.98 492.70,16.97 493.20,16.05 493.70,15.22 494.20,14.48 494.70,13.82 495.20,13.25 495.70,12.76 496.20,12.35 496.70,12.02 497.20,11.76 497.70,11.58 498.20,11.47 498.70,11.42 499.20,11.44 499.70,11.51 500.20,11.65 500.70,11.83 501.20,12.07 501.70,12.36 502.20,12.69 502.70,13.06 503.20,13.46 503.70,13.90 504.20,14.37 504.70,14.86 505.20,15.38 505.70,15.91 506.20,16.46 506.70,17.02 507.20,17.59 507.70,18.17 508.20,18.74 508.70,19.32 509.20,19.90 509.70,20.46 510.20,21.02 510.70,21.57 511.20,22.11 511.70,22.62 512.20,23.13 512.70,23.61 513.20,24.07 513.70,24.51 514.20,24.92 514.70,25.31 515.20,25.68 515.70,26.01 516.20,26.32 516.70,26.60 517.20,26.86 517.70,27.08 518.20,27.28 518.70,27.45 519.20,27.59 519.70,27.71 520.20,27.80 520.70,27.86 521.20,27.90 521.70,27.91 522.20,27.90 522.70,27.87 523.20,27.82 523.70,27.75 524.20,27.66 524.70,27.56 525.20,27.44 525.70,27.31 526.20,27.17 526.70,27.01 527.20,26.86 527.70,26.69 528.20,26.52 528.70,26.35 529.20,26.18 529.70,26.00 530.20,25.83 530.70,25.67 531.20,25.51 531.70,25.35 532.20,25.21 532.70,25.07 533.20,24.94 533.70,24.83 534.20,24.72 534.70,24.63 535.20,24.56 535.70,24.50 536.20,24.45 536.70,24.42 537.20,24.40 537.70,24.40 538.20,24.42 538.70,24.45 539.20,24.50 539.70,24.56 540.20,24.63 540.70,24.72 541.20,24.83 541.70,24.94 542.20,25.07 542.70,25.21 543.20,25.35 543.70,25.51 544.20,25.67 544.70,25.83 545.20,26.00 545.70,26.18 546.20,26.35 546.70,26.52 547.20,26.69 547.70,26.86 548.20,27.01 548.70,27.17 549.20,27.31 549.70,27.44 550.20,27.56 550.70,27.66 551.20,27.75 551.70,27.82 552.20,27.87 552.70,27.90 553.20,27.91 553.70,27.90 554.20,27.86 554.70,27.80 555.20,27.71 555.70,27.59 556.20,27.45 556.70,27.28 557.20,27.08 557.70,26.86 558.20,26.60 558.70,26.32 559.20,26.01 559.70,25.68 560.20,25.31 560.70,24.92 561.20,24.51 561.70,24.07 562.20,23.61 562.70,23.13 563.20,22.62 563.70,22.11 564.20,21.57 564.70,21.02 565.20,20.46 565.70,19.90 566.20,19.32 566.70,18.74 567.20,18.17 567.70,17.59 568.20,17.02 568.70,16.46 569.20,15.91 569.70,15.38 570.20,14.86 570.70,14.37 571.20,13.90 571.70,13.46 572.20,13.06 572.70,12.69 573.20,12.36 573.70,12.07 574.20,11.83 574.70,11.65 575.20,11.51 575.70,11.44 576.20,11.42 576.70,11.47 577.20,11.58 577.70,11.76 578.20,12.02 578.70,12.35 579.20,12.76 579.70,13.25 580.20,13.82 580.70,14.48 581.20,15.22 581.70,16.05 582.20,16.97 582.70,17.98 583.20,19.08 583.70,20.27 584.20,21.55 584.70,22.93 585.20,24.40 585.70,25.96 586.20,27.61 586.70,29.36 587.20,31.19 587.70,33.11 588.20,35.12 588.70,37.21 589.20,39.38 589.70,41.64 590.20,43.97 590.70,46.38 591.20,48.86 591.70,51.41 592.20,54.03 592.70,56.70 593.20,59.44 593.70,62.22 594.20,65.06 594.70,67.94 595.20,70.87 595.70,73.83 596.20,76.82 596.70,79.83 597.20,82.87 597.70,85.93 598.20,88.99 598.70,92.06 599.20,95.13 599.70,98.20 600.20,101.26 600.70,104.30 601.20,107.32 601.70,110.31 602.20,113.28 602.70,116.20 603.20,119.09 603.70,121.93 604.20,124.72 604.70,127.46 605.20,130.13 605.70,132.75 606.20,135.29 606.70,137.76 607.20,140.16 607.70,142.47 608.20,144.70 608.70,146.85 609.20,148.91 609.70,150.87 610.20,152.74 610.70,154.52 611.20,156.19 611.70,157.77 612.20,159.24 612.70,160.61 613.20,161.88 613.70,163.05 614.20,164.11 614.70,165.06 615.20,165.92 615.70,166.66 616.20,167.31 616.70,167.86 617.20,168.30 617.70,168.65 618.20,168.90 618.70,169.05 619.20,169.11 619.70,169.09 620.20,168.97 620.70,168.77 621.20,168.49 621.70,168.14 622.20,167.71 622.70,167.21 623.20,166.64 623.70,166.01 624.20,165.32 624.70,164.58 625.20,163.78 625.70,162.95 626.20,162.07 626.70,161.15 627.20,160.20 627.70,159.22 628.20,158.22 628.70,157.21 629.20,156.17 629.70,155.13 630.20,154.08 630.70,153.03 631.20,151.98 631.70,150.94 632.20,149.91 632.70,148.90 633.20,147.90 633.70,146.93 634.20,145.98 634.70,145.07 635.20,144.18 635.70,143.33 636.20,142.52 636.70,141.75 637.20,141.02 637.70,140.33 638.20,139.70 638.70,139.11 639.20,138.57 639.70,138.08 640.20,137.65 640.70,137.27 641.20,136.95 641.70,136.67 642.20,136.46 642.70,136.30 643.20,136.19 643.70,136.14 644.20,136.14 644.70,136.19 645.20,136.29 645.70,136.45 646.20,136.65 646.70,136.90 647.20,137.20 647.70,137.54 648.20,137.92 648.70,138.34 649.20,138.79 649.70,139.28 650.20,139.81 650.70,140.36 651.20,140.94 651.70,141.54 652.20,142.16 652.70,142.80 653.20,143.46 653.70,144.13 654.20,144.81 654.70,145.49 655.20,146.18 655.70,146.87 656.20,147.55 656.70,148.23 657.20,148.90 657.70,149.56 658.20,150.21 658.70,150.84 659.20,151.45 659.70,152.05 660.20,152.62 660.70,153.16 661.20,153.68 661.70,154.16 662.20,154.62 662.70,155.04 663.20,155.44 663.70,155.79 664.20,156.11 664.70,156.40 665.20,156.64 665.70,156.85 666.20,157.02 666.70,157.15 667.20,157.24 667.70,157.29 668.20,157.30 668.70,157.28 669.20,157.22 669.70,157.12 670.20,156.98 670.70,156.81 671.20,156.60 671.70,156.36 672.20,156.09 672.70,155.79 673.20,155.46 673.70,155.10 674.20,154.72 674.70,154.31 675.20,153.89 675.70,153.44 676.20,152.98 676.70,152.50 677.20,152.01 677.70,151.51 678.20,151.00 678.70,150.48 679.20,149.96 679.70,149.44 680.20,148.92 680.70,148.40"/>
</g>
<text transform="translate(358.80,19.6) scale(0.55,1)" font-size="26" font-weight="bold" font-family="Liberation Serif, serif">(b)</text>
<text x="454.00" y="352" font-size="18.8" font-family="Liberation Sans, sans-serif" textLength="163.6" lengthAdjust="spacingAndGlyphs" stroke="#000" stroke-width="0.35">Frequency (Carrier spacings)</text>
<text transform="translate(367.60,207.30) rotate(-90) scale(1.752,1)" x="-0.24" font-size="10.80" font-family="Liberation Sans, sans-serif" stroke="#000" stroke-width="0.10">T</text>
<text transform="translate(367.60,194.30) rotate(-90) scale(1.472,1)" x="-0.12" font-size="10.80" font-family="Liberation Sans, sans-serif" stroke="#000" stroke-width="0.10">x</text>
<text transform="translate(367.60,176.00) rotate(-90) scale(1.740,1)" x="-0.89" font-size="10.80" font-family="Liberation Sans, sans-serif" stroke="#000" stroke-width="0.10">P</text>
<text transform="translate(367.60,161.40) rotate(-90) scale(1.510,1)" x="-0.45" font-size="10.80" font-family="Liberation Sans, sans-serif" stroke="#000" stroke-width="0.10">o</text>
<text transform="translate(367.60,152.20) rotate(-90) scale(1.645,1)" x="0.02" font-size="10.80" font-family="Liberation Sans, sans-serif" stroke="#000" stroke-width="0.10">w</text>
<text transform="translate(367.60,138.50) rotate(-90) scale(2.111,1)" x="-0.46" font-size="10.80" font-family="Liberation Sans, sans-serif" stroke="#000" stroke-width="0.10">e</text>
<text transform="translate(367.60,123.00) rotate(-90) scale(2.222,1)" x="-0.72" font-size="10.80" font-family="Liberation Sans, sans-serif" stroke="#000" stroke-width="0.10">r</text>
</svg>
</body></html>
